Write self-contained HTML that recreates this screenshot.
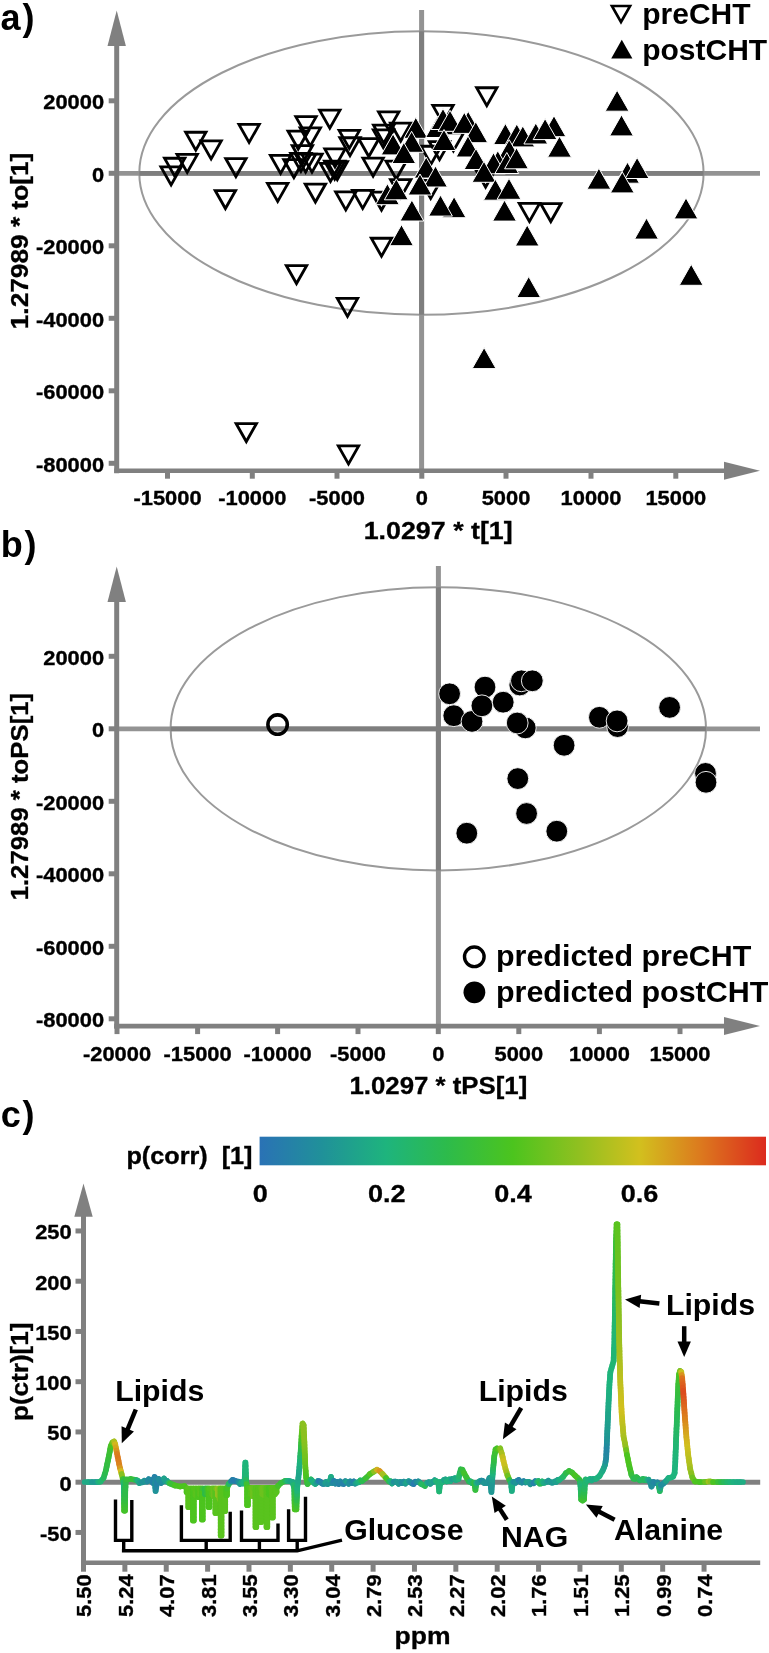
<!DOCTYPE html>
<html><head><meta charset="utf-8"><title>figure</title>
<style>
html,body{margin:0;padding:0;background:#fff;}
body{width:769px;height:1653px;overflow:hidden;}
svg{display:block;font-family:"Liberation Sans",sans-serif;font-weight:bold;}
text{filter:grayscale(1);}
</style></head><body>
<svg width="769" height="1653" viewBox="0 0 769 1653">
<rect width="769" height="1653" fill="#fff"/>
<ellipse cx="421.45" cy="173.0" rx="282.15" ry="141.8" fill="none" stroke="#9a9a9a" stroke-width="2"/>
<line x1="421.60" y1="10.00" x2="421.60" y2="470.70" stroke="#939393" stroke-width="5.0" stroke-linecap="butt"/>
<line x1="116.70" y1="173.30" x2="760.00" y2="173.30" stroke="#939393" stroke-width="4.7" stroke-linecap="butt"/>
<clipPath id="clip173"><ellipse cx="421.45" cy="173.0" rx="282.15" ry="141.8"/></clipPath>
<g clip-path="url(#clip173)">
<line x1="421.60" y1="10.00" x2="421.60" y2="470.70" stroke="#7e7e7e" stroke-width="5.0" stroke-linecap="butt"/>
<line x1="116.70" y1="173.30" x2="760.00" y2="173.30" stroke="#7e7e7e" stroke-width="4.7" stroke-linecap="butt"/>
</g>
<line x1="116.70" y1="40.00" x2="116.70" y2="473.20" stroke="#808080" stroke-width="5" stroke-linecap="butt"/>
<polygon points="116.70,10.50 107.50,45.90 125.90,45.90" fill="#808080" stroke="none" stroke-width="0" />
<line x1="114.20" y1="470.70" x2="730.00" y2="470.70" stroke="#808080" stroke-width="4.6" stroke-linecap="butt"/>
<polygon points="760.00,470.70 724.00,461.70 724.00,479.70" fill="#808080" stroke="none" stroke-width="0" />
<line x1="108.70" y1="100.80" x2="116.70" y2="100.80" stroke="#808080" stroke-width="5" stroke-linecap="butt"/>
<text transform="translate(104.10,109.30) scale(1.078,1)" font-size="20.3" text-anchor="end" fill="#000"  stroke="#000" stroke-width="0.35">20000</text>
<line x1="108.70" y1="173.30" x2="116.70" y2="173.30" stroke="#808080" stroke-width="5" stroke-linecap="butt"/>
<text transform="translate(104.10,181.80) scale(1.078,1)" font-size="20.3" text-anchor="end" fill="#000"  stroke="#000" stroke-width="0.35">0</text>
<line x1="108.70" y1="245.80" x2="116.70" y2="245.80" stroke="#808080" stroke-width="5" stroke-linecap="butt"/>
<text transform="translate(104.10,254.30) scale(1.078,1)" font-size="20.3" text-anchor="end" fill="#000"  stroke="#000" stroke-width="0.35">-20000</text>
<line x1="108.70" y1="318.30" x2="116.70" y2="318.30" stroke="#808080" stroke-width="5" stroke-linecap="butt"/>
<text transform="translate(104.10,326.80) scale(1.078,1)" font-size="20.3" text-anchor="end" fill="#000"  stroke="#000" stroke-width="0.35">-40000</text>
<line x1="108.70" y1="390.80" x2="116.70" y2="390.80" stroke="#808080" stroke-width="5" stroke-linecap="butt"/>
<text transform="translate(104.10,399.30) scale(1.078,1)" font-size="20.3" text-anchor="end" fill="#000"  stroke="#000" stroke-width="0.35">-60000</text>
<line x1="108.70" y1="463.30" x2="116.70" y2="463.30" stroke="#808080" stroke-width="5" stroke-linecap="butt"/>
<text transform="translate(104.10,471.80) scale(1.078,1)" font-size="20.3" text-anchor="end" fill="#000"  stroke="#000" stroke-width="0.35">-80000</text>
<line x1="167.50" y1="470.70" x2="167.50" y2="478.70" stroke="#808080" stroke-width="5" stroke-linecap="butt"/>
<text transform="translate(167.50,504.80) scale(1.078,1)" font-size="20.3" text-anchor="middle" fill="#000"  stroke="#000" stroke-width="0.35">-15000</text>
<line x1="252.30" y1="470.70" x2="252.30" y2="478.70" stroke="#808080" stroke-width="5" stroke-linecap="butt"/>
<text transform="translate(252.30,504.80) scale(1.078,1)" font-size="20.3" text-anchor="middle" fill="#000"  stroke="#000" stroke-width="0.35">-10000</text>
<line x1="337.00" y1="470.70" x2="337.00" y2="478.70" stroke="#808080" stroke-width="5" stroke-linecap="butt"/>
<text transform="translate(337.00,504.80) scale(1.078,1)" font-size="20.3" text-anchor="middle" fill="#000"  stroke="#000" stroke-width="0.35">-5000</text>
<line x1="421.80" y1="470.70" x2="421.80" y2="478.70" stroke="#808080" stroke-width="5" stroke-linecap="butt"/>
<text transform="translate(421.80,504.80) scale(1.078,1)" font-size="20.3" text-anchor="middle" fill="#000"  stroke="#000" stroke-width="0.35">0</text>
<line x1="506.00" y1="470.70" x2="506.00" y2="478.70" stroke="#808080" stroke-width="5" stroke-linecap="butt"/>
<text transform="translate(506.00,504.80) scale(1.078,1)" font-size="20.3" text-anchor="middle" fill="#000"  stroke="#000" stroke-width="0.35">5000</text>
<line x1="591.00" y1="470.70" x2="591.00" y2="478.70" stroke="#808080" stroke-width="5" stroke-linecap="butt"/>
<text transform="translate(591.00,504.80) scale(1.078,1)" font-size="20.3" text-anchor="middle" fill="#000"  stroke="#000" stroke-width="0.35">10000</text>
<line x1="675.80" y1="470.70" x2="675.80" y2="478.70" stroke="#808080" stroke-width="5" stroke-linecap="butt"/>
<text transform="translate(675.80,504.80) scale(1.078,1)" font-size="20.3" text-anchor="middle" fill="#000"  stroke="#000" stroke-width="0.35">15000</text>
<text transform="translate(28.40,241.00) rotate(-90)" font-size="23.6" text-anchor="middle" fill="#000"  textLength="176.5" lengthAdjust="spacingAndGlyphs" stroke="#000" stroke-width="0.3">1.27989 * to[1]</text>
<text transform="translate(438.20,539.00)" font-size="23.6" text-anchor="middle" fill="#000"  textLength="149" lengthAdjust="spacingAndGlyphs" stroke="#000" stroke-width="0.3">1.0297 * t[1]</text>
<text transform="translate(0.60,30.30)" font-size="36" text-anchor="start" fill="#000" >a<tspan dx="1.8">)</tspan></text>
<polygon points="160.90,166.85 181.30,166.85 171.10,184.85" fill="none" stroke="#000" stroke-width="2.8" stroke-linejoin="miter"/>
<polygon points="164.50,158.25 184.90,158.25 174.70,176.25" fill="none" stroke="#000" stroke-width="2.8" stroke-linejoin="miter"/>
<polygon points="177.00,154.35 197.40,154.35 187.20,172.35" fill="none" stroke="#000" stroke-width="2.8" stroke-linejoin="miter"/>
<polygon points="185.60,132.25 206.00,132.25 195.80,150.25" fill="none" stroke="#000" stroke-width="2.8" stroke-linejoin="miter"/>
<polygon points="200.90,140.85 221.30,140.85 211.10,158.85" fill="none" stroke="#000" stroke-width="2.8" stroke-linejoin="miter"/>
<polygon points="238.90,124.45 259.30,124.45 249.10,142.45" fill="none" stroke="#000" stroke-width="2.8" stroke-linejoin="miter"/>
<polygon points="225.70,158.55 246.10,158.55 235.90,176.55" fill="none" stroke="#000" stroke-width="2.8" stroke-linejoin="miter"/>
<polygon points="215.20,190.55 235.60,190.55 225.40,208.55" fill="none" stroke="#000" stroke-width="2.8" stroke-linejoin="miter"/>
<polygon points="267.50,183.45 287.90,183.45 277.70,201.45" fill="none" stroke="#000" stroke-width="2.8" stroke-linejoin="miter"/>
<polygon points="305.20,184.05 325.60,184.05 315.40,202.05" fill="none" stroke="#000" stroke-width="2.8" stroke-linejoin="miter"/>
<polygon points="286.30,265.55 306.70,265.55 296.50,283.55" fill="none" stroke="#000" stroke-width="2.8" stroke-linejoin="miter"/>
<polygon points="337.30,298.45 357.70,298.45 347.50,316.45" fill="none" stroke="#000" stroke-width="2.8" stroke-linejoin="miter"/>
<polygon points="236.10,423.55 256.50,423.55 246.30,441.55" fill="none" stroke="#000" stroke-width="2.8" stroke-linejoin="miter"/>
<polygon points="338.30,445.95 358.70,445.95 348.50,463.95" fill="none" stroke="#000" stroke-width="2.8" stroke-linejoin="miter"/>
<polygon points="319.60,110.15 340.00,110.15 329.80,128.15" fill="none" stroke="#000" stroke-width="2.8" stroke-linejoin="miter"/>
<polygon points="295.80,116.65 316.20,116.65 306.00,134.65" fill="none" stroke="#000" stroke-width="2.8" stroke-linejoin="miter"/>
<polygon points="300.10,127.85 320.50,127.85 310.30,145.85" fill="none" stroke="#000" stroke-width="2.8" stroke-linejoin="miter"/>
<polygon points="288.00,131.05 308.40,131.05 298.20,149.05" fill="none" stroke="#000" stroke-width="2.8" stroke-linejoin="miter"/>
<polygon points="292.20,145.55 312.60,145.55 302.40,163.55" fill="none" stroke="#000" stroke-width="2.8" stroke-linejoin="miter"/>
<polygon points="270.40,155.35 290.80,155.35 280.60,173.35" fill="none" stroke="#000" stroke-width="2.8" stroke-linejoin="miter"/>
<polygon points="283.70,159.55 304.10,159.55 293.90,177.55" fill="none" stroke="#000" stroke-width="2.8" stroke-linejoin="miter"/>
<polygon points="290.70,153.35 311.10,153.35 300.90,171.35" fill="none" stroke="#000" stroke-width="2.8" stroke-linejoin="miter"/>
<polygon points="295.40,154.15 315.80,154.15 305.60,172.15" fill="none" stroke="#000" stroke-width="2.8" stroke-linejoin="miter"/>
<polygon points="301.80,154.15 322.20,154.15 312.00,172.15" fill="none" stroke="#000" stroke-width="2.8" stroke-linejoin="miter"/>
<polygon points="339.10,130.35 359.50,130.35 349.30,148.35" fill="none" stroke="#000" stroke-width="2.8" stroke-linejoin="miter"/>
<polygon points="339.80,137.75 360.20,137.75 350.00,155.75" fill="none" stroke="#000" stroke-width="2.8" stroke-linejoin="miter"/>
<polygon points="324.80,148.85 345.20,148.85 335.00,166.85" fill="none" stroke="#000" stroke-width="2.8" stroke-linejoin="miter"/>
<polygon points="320.30,163.45 340.70,163.45 330.50,181.45" fill="none" stroke="#000" stroke-width="2.8" stroke-linejoin="miter"/>
<polygon points="324.50,161.25 344.90,161.25 334.70,179.25" fill="none" stroke="#000" stroke-width="2.8" stroke-linejoin="miter"/>
<polygon points="327.10,161.55 347.50,161.55 337.30,179.55" fill="none" stroke="#000" stroke-width="2.8" stroke-linejoin="miter"/>
<polygon points="358.60,138.55 379.00,138.55 368.80,156.55" fill="none" stroke="#000" stroke-width="2.8" stroke-linejoin="miter"/>
<polygon points="362.90,158.15 383.30,158.15 373.10,176.15" fill="none" stroke="#000" stroke-width="2.8" stroke-linejoin="miter"/>
<polygon points="335.60,191.85 356.00,191.85 345.80,209.85" fill="none" stroke="#000" stroke-width="2.8" stroke-linejoin="miter"/>
<polygon points="352.50,190.35 372.90,190.35 362.70,208.35" fill="none" stroke="#000" stroke-width="2.8" stroke-linejoin="miter"/>
<polygon points="371.30,192.05 391.70,192.05 381.50,210.05" fill="none" stroke="#000" stroke-width="2.8" stroke-linejoin="miter"/>
<polygon points="378.50,111.95 398.90,111.95 388.70,129.95" fill="none" stroke="#000" stroke-width="2.8" stroke-linejoin="miter"/>
<polygon points="390.50,123.05 410.90,123.05 400.70,141.05" fill="none" stroke="#000" stroke-width="2.8" stroke-linejoin="miter"/>
<polygon points="373.50,125.15 393.90,125.15 383.70,143.15" fill="none" stroke="#000" stroke-width="2.8" stroke-linejoin="miter"/>
<polygon points="373.30,129.85 393.70,129.85 383.50,147.85" fill="none" stroke="#000" stroke-width="2.8" stroke-linejoin="miter"/>
<polygon points="386.00,161.05 406.40,161.05 396.20,179.05" fill="none" stroke="#000" stroke-width="2.8" stroke-linejoin="miter"/>
<polygon points="432.80,105.45 453.20,105.45 443.00,123.45" fill="none" stroke="#000" stroke-width="2.8" stroke-linejoin="miter"/>
<polygon points="420.80,146.25 441.20,146.25 431.00,164.25" fill="none" stroke="#000" stroke-width="2.8" stroke-linejoin="miter"/>
<polygon points="429.30,141.65 449.70,141.65 439.50,159.65" fill="none" stroke="#000" stroke-width="2.8" stroke-linejoin="miter"/>
<polygon points="443.20,132.95 463.60,132.95 453.40,150.95" fill="none" stroke="#000" stroke-width="2.8" stroke-linejoin="miter"/>
<polygon points="476.60,87.75 497.00,87.75 486.80,105.75" fill="none" stroke="#000" stroke-width="2.8" stroke-linejoin="miter"/>
<polygon points="390.50,179.55 410.90,179.55 400.70,197.55" fill="none" stroke="#000" stroke-width="2.8" stroke-linejoin="miter"/>
<polygon points="420.50,180.35 440.90,180.35 430.70,198.35" fill="none" stroke="#000" stroke-width="2.8" stroke-linejoin="miter"/>
<polygon points="371.30,238.25 391.70,238.25 381.50,256.25" fill="none" stroke="#000" stroke-width="2.8" stroke-linejoin="miter"/>
<polygon points="519.20,203.35 539.60,203.35 529.40,221.35" fill="none" stroke="#000" stroke-width="2.8" stroke-linejoin="miter"/>
<polygon points="540.60,203.55 561.00,203.55 550.80,221.55" fill="none" stroke="#000" stroke-width="2.8" stroke-linejoin="miter"/>
<polygon points="475.40,169.05 495.80,169.05 485.60,187.05" fill="none" stroke="#000" stroke-width="2.8" stroke-linejoin="miter"/>
<polygon points="415.80,117.30 427.70,138.30 403.90,138.30" fill="#000" stroke="#fff" stroke-width="1.0" />
<polygon points="411.60,131.30 423.50,152.30 399.70,152.30" fill="#000" stroke="#fff" stroke-width="1.0" />
<polygon points="393.10,133.90 405.00,154.90 381.20,154.90" fill="#000" stroke="#fff" stroke-width="1.0" />
<polygon points="403.80,142.50 415.70,163.50 391.90,163.50" fill="#000" stroke="#fff" stroke-width="1.0" />
<polygon points="437.50,116.50 449.40,137.50 425.60,137.50" fill="#000" stroke="#fff" stroke-width="1.0" />
<polygon points="443.00,108.50 454.90,129.50 431.10,129.50" fill="#000" stroke="#fff" stroke-width="1.0" />
<polygon points="450.00,110.30 461.90,131.30 438.10,131.30" fill="#000" stroke="#fff" stroke-width="1.0" />
<polygon points="444.00,129.50 455.90,150.50 432.10,150.50" fill="#000" stroke="#fff" stroke-width="1.0" />
<polygon points="426.20,157.10 438.10,178.10 414.30,178.10" fill="#000" stroke="#fff" stroke-width="1.0" />
<polygon points="435.50,166.00 447.40,187.00 423.60,187.00" fill="#000" stroke="#fff" stroke-width="1.0" />
<polygon points="468.20,111.30 480.10,132.30 456.30,132.30" fill="#000" stroke="#fff" stroke-width="1.0" />
<polygon points="464.30,112.40 476.20,133.40 452.40,133.40" fill="#000" stroke="#fff" stroke-width="1.0" />
<polygon points="475.80,121.70 487.70,142.70 463.90,142.70" fill="#000" stroke="#fff" stroke-width="1.0" />
<polygon points="468.00,136.00 479.90,157.00 456.10,157.00" fill="#000" stroke="#fff" stroke-width="1.0" />
<polygon points="476.00,148.50 487.90,169.50 464.10,169.50" fill="#000" stroke="#fff" stroke-width="1.0" />
<polygon points="505.40,123.60 517.30,144.60 493.50,144.60" fill="#000" stroke="#fff" stroke-width="1.0" />
<polygon points="516.80,124.00 528.70,145.00 504.90,145.00" fill="#000" stroke="#fff" stroke-width="1.0" />
<polygon points="522.80,125.90 534.70,146.90 510.90,146.90" fill="#000" stroke="#fff" stroke-width="1.0" />
<polygon points="535.80,123.00 547.70,144.00 523.90,144.00" fill="#000" stroke="#fff" stroke-width="1.0" />
<polygon points="554.00,115.70 565.90,136.70 542.10,136.70" fill="#000" stroke="#fff" stroke-width="1.0" />
<polygon points="545.10,118.60 557.00,139.60 533.20,139.60" fill="#000" stroke="#fff" stroke-width="1.0" />
<polygon points="559.50,136.20 571.40,157.20 547.60,157.20" fill="#000" stroke="#fff" stroke-width="1.0" />
<polygon points="509.20,139.70 521.10,160.70 497.30,160.70" fill="#000" stroke="#fff" stroke-width="1.0" />
<polygon points="497.80,150.70 509.70,171.70 485.90,171.70" fill="#000" stroke="#fff" stroke-width="1.0" />
<polygon points="493.50,152.80 505.40,173.80 481.60,173.80" fill="#000" stroke="#fff" stroke-width="1.0" />
<polygon points="506.80,152.50 518.70,173.50 494.90,173.50" fill="#000" stroke="#fff" stroke-width="1.0" />
<polygon points="516.50,147.80 528.40,168.80 504.60,168.80" fill="#000" stroke="#fff" stroke-width="1.0" />
<polygon points="484.00,161.30 495.90,182.30 472.10,182.30" fill="#000" stroke="#fff" stroke-width="1.0" />
<polygon points="495.40,179.20 507.30,200.20 483.50,200.20" fill="#000" stroke="#fff" stroke-width="1.0" />
<polygon points="509.00,178.30 520.90,199.30 497.10,199.30" fill="#000" stroke="#fff" stroke-width="1.0" />
<polygon points="504.50,200.10 516.40,221.10 492.60,221.10" fill="#000" stroke="#fff" stroke-width="1.0" />
<polygon points="527.20,225.00 539.10,246.00 515.30,246.00" fill="#000" stroke="#fff" stroke-width="1.0" />
<polygon points="411.90,200.00 423.80,221.00 400.00,221.00" fill="#000" stroke="#fff" stroke-width="1.0" />
<polygon points="401.50,224.70 413.40,245.70 389.60,245.70" fill="#000" stroke="#fff" stroke-width="1.0" />
<polygon points="454.10,196.70 466.00,217.70 442.20,217.70" fill="#000" stroke="#fff" stroke-width="1.0" />
<polygon points="440.50,195.10 452.40,216.10 428.60,216.10" fill="#000" stroke="#fff" stroke-width="1.0" />
<polygon points="420.00,174.00 431.90,195.00 408.10,195.00" fill="#000" stroke="#fff" stroke-width="1.0" />
<polygon points="387.40,183.70 399.30,204.70 375.50,204.70" fill="#000" stroke="#fff" stroke-width="1.0" />
<polygon points="396.30,178.80 408.20,199.80 384.40,199.80" fill="#000" stroke="#fff" stroke-width="1.0" />
<polygon points="617.10,90.20 629.00,111.20 605.20,111.20" fill="#000" stroke="#fff" stroke-width="1.0" />
<polygon points="621.50,114.90 633.40,135.90 609.60,135.90" fill="#000" stroke="#fff" stroke-width="1.0" />
<polygon points="627.50,162.20 639.40,183.20 615.60,183.20" fill="#000" stroke="#fff" stroke-width="1.0" />
<polygon points="637.10,157.50 649.00,178.50 625.20,178.50" fill="#000" stroke="#fff" stroke-width="1.0" />
<polygon points="598.90,168.20 610.80,189.20 587.00,189.20" fill="#000" stroke="#fff" stroke-width="1.0" />
<polygon points="622.30,171.90 634.20,192.90 610.40,192.90" fill="#000" stroke="#fff" stroke-width="1.0" />
<polygon points="686.00,197.90 697.90,218.90 674.10,218.90" fill="#000" stroke="#fff" stroke-width="1.0" />
<polygon points="646.50,218.10 658.40,239.10 634.60,239.10" fill="#000" stroke="#fff" stroke-width="1.0" />
<polygon points="691.20,264.30 703.10,285.30 679.30,285.30" fill="#000" stroke="#fff" stroke-width="1.0" />
<polygon points="528.70,276.60 540.60,297.60 516.80,297.60" fill="#000" stroke="#fff" stroke-width="1.0" />
<polygon points="484.10,347.60 496.00,368.60 472.20,368.60" fill="#000" stroke="#fff" stroke-width="1.0" />
<polygon points="611.90,6.00 630.10,6.00 621.00,22.00" fill="#fff" stroke="#000" stroke-width="2.6" stroke-linejoin="miter"/>
<polygon points="621.80,39.80 632.40,58.60 611.20,58.60" fill="#000" stroke="none" stroke-width="0" />
<text transform="translate(642.20,23.60)" font-size="30" text-anchor="start" fill="#000" >preCHT</text>
<text transform="translate(642.20,60.00)" font-size="30" text-anchor="start" fill="#000" >postCHT</text>
<ellipse cx="438.3" cy="728.85" rx="267.7" ry="141.65" fill="none" stroke="#9a9a9a" stroke-width="2"/>
<line x1="438.40" y1="566.00" x2="438.40" y2="1026.10" stroke="#939393" stroke-width="5.0" stroke-linecap="butt"/>
<line x1="116.70" y1="728.80" x2="760.00" y2="728.80" stroke="#939393" stroke-width="4.7" stroke-linecap="butt"/>
<clipPath id="clip728"><ellipse cx="438.3" cy="728.85" rx="267.7" ry="141.65"/></clipPath>
<g clip-path="url(#clip728)">
<line x1="438.40" y1="566.00" x2="438.40" y2="1026.10" stroke="#7e7e7e" stroke-width="5.0" stroke-linecap="butt"/>
<line x1="116.70" y1="728.80" x2="760.00" y2="728.80" stroke="#7e7e7e" stroke-width="4.7" stroke-linecap="butt"/>
</g>
<line x1="116.70" y1="596.00" x2="116.70" y2="1028.60" stroke="#808080" stroke-width="5" stroke-linecap="butt"/>
<polygon points="116.70,566.50 107.50,601.90 125.90,601.90" fill="#808080" stroke="none" stroke-width="0" />
<line x1="114.20" y1="1026.10" x2="730.00" y2="1026.10" stroke="#808080" stroke-width="4.6" stroke-linecap="butt"/>
<polygon points="760.00,1026.10 724.00,1017.10 724.00,1035.10" fill="#808080" stroke="none" stroke-width="0" />
<line x1="108.70" y1="656.30" x2="116.70" y2="656.30" stroke="#808080" stroke-width="5" stroke-linecap="butt"/>
<text transform="translate(104.10,664.80) scale(1.078,1)" font-size="20.3" text-anchor="end" fill="#000"  stroke="#000" stroke-width="0.35">20000</text>
<line x1="108.70" y1="728.80" x2="116.70" y2="728.80" stroke="#808080" stroke-width="5" stroke-linecap="butt"/>
<text transform="translate(104.10,737.30) scale(1.078,1)" font-size="20.3" text-anchor="end" fill="#000"  stroke="#000" stroke-width="0.35">0</text>
<line x1="108.70" y1="801.30" x2="116.70" y2="801.30" stroke="#808080" stroke-width="5" stroke-linecap="butt"/>
<text transform="translate(104.10,809.80) scale(1.078,1)" font-size="20.3" text-anchor="end" fill="#000"  stroke="#000" stroke-width="0.35">-20000</text>
<line x1="108.70" y1="873.80" x2="116.70" y2="873.80" stroke="#808080" stroke-width="5" stroke-linecap="butt"/>
<text transform="translate(104.10,882.30) scale(1.078,1)" font-size="20.3" text-anchor="end" fill="#000"  stroke="#000" stroke-width="0.35">-40000</text>
<line x1="108.70" y1="946.30" x2="116.70" y2="946.30" stroke="#808080" stroke-width="5" stroke-linecap="butt"/>
<text transform="translate(104.10,954.80) scale(1.078,1)" font-size="20.3" text-anchor="end" fill="#000"  stroke="#000" stroke-width="0.35">-60000</text>
<line x1="108.70" y1="1018.80" x2="116.70" y2="1018.80" stroke="#808080" stroke-width="5" stroke-linecap="butt"/>
<text transform="translate(104.10,1027.30) scale(1.078,1)" font-size="20.3" text-anchor="end" fill="#000"  stroke="#000" stroke-width="0.35">-80000</text>
<line x1="117.00" y1="1026.10" x2="117.00" y2="1034.10" stroke="#808080" stroke-width="5" stroke-linecap="butt"/>
<text transform="translate(117.00,1061.40) scale(1.078,1)" font-size="20.3" text-anchor="middle" fill="#000"  stroke="#000" stroke-width="0.35">-20000</text>
<line x1="197.60" y1="1026.10" x2="197.60" y2="1034.10" stroke="#808080" stroke-width="5" stroke-linecap="butt"/>
<text transform="translate(197.60,1061.40) scale(1.078,1)" font-size="20.3" text-anchor="middle" fill="#000"  stroke="#000" stroke-width="0.35">-15000</text>
<line x1="277.60" y1="1026.10" x2="277.60" y2="1034.10" stroke="#808080" stroke-width="5" stroke-linecap="butt"/>
<text transform="translate(277.60,1061.40) scale(1.078,1)" font-size="20.3" text-anchor="middle" fill="#000"  stroke="#000" stroke-width="0.35">-10000</text>
<line x1="358.00" y1="1026.10" x2="358.00" y2="1034.10" stroke="#808080" stroke-width="5" stroke-linecap="butt"/>
<text transform="translate(358.00,1061.40) scale(1.078,1)" font-size="20.3" text-anchor="middle" fill="#000"  stroke="#000" stroke-width="0.35">-5000</text>
<line x1="438.30" y1="1026.10" x2="438.30" y2="1034.10" stroke="#808080" stroke-width="5" stroke-linecap="butt"/>
<text transform="translate(438.30,1061.40) scale(1.078,1)" font-size="20.3" text-anchor="middle" fill="#000"  stroke="#000" stroke-width="0.35">0</text>
<line x1="518.80" y1="1026.10" x2="518.80" y2="1034.10" stroke="#808080" stroke-width="5" stroke-linecap="butt"/>
<text transform="translate(518.80,1061.40) scale(1.078,1)" font-size="20.3" text-anchor="middle" fill="#000"  stroke="#000" stroke-width="0.35">5000</text>
<line x1="599.40" y1="1026.10" x2="599.40" y2="1034.10" stroke="#808080" stroke-width="5" stroke-linecap="butt"/>
<text transform="translate(599.40,1061.40) scale(1.078,1)" font-size="20.3" text-anchor="middle" fill="#000"  stroke="#000" stroke-width="0.35">10000</text>
<line x1="680.00" y1="1026.10" x2="680.00" y2="1034.10" stroke="#808080" stroke-width="5" stroke-linecap="butt"/>
<text transform="translate(680.00,1061.40) scale(1.078,1)" font-size="20.3" text-anchor="middle" fill="#000"  stroke="#000" stroke-width="0.35">15000</text>
<text transform="translate(27.90,796.60) rotate(-90)" font-size="23.6" text-anchor="middle" fill="#000"  textLength="207.5" lengthAdjust="spacingAndGlyphs" stroke="#000" stroke-width="0.3">1.27989 * toPS[1]</text>
<text transform="translate(438.40,1094.40)" font-size="23.6" text-anchor="middle" fill="#000"  textLength="177.8" lengthAdjust="spacingAndGlyphs" stroke="#000" stroke-width="0.3">1.0297 * tPS[1]</text>
<text transform="translate(0.80,556.50)" font-size="36" text-anchor="start" fill="#000" >b<tspan dx="1.6">)</tspan></text>
<circle cx="277.6" cy="724.6" r="9.7" fill="none" stroke="#000" stroke-width="3.6"/>
<circle cx="705.5" cy="773.4" r="10.9" fill="#000" stroke="#fff" stroke-width="0.9"/>
<circle cx="706.0" cy="782.3" r="10.9" fill="#000" stroke="#fff" stroke-width="0.9"/>
<circle cx="449.6" cy="693.8" r="10.9" fill="#000" stroke="#fff" stroke-width="0.9"/>
<circle cx="485.0" cy="687.1" r="10.9" fill="#000" stroke="#fff" stroke-width="0.9"/>
<circle cx="519.8" cy="685.0" r="10.9" fill="#000" stroke="#fff" stroke-width="0.9"/>
<circle cx="521.4" cy="680.8" r="10.9" fill="#000" stroke="#fff" stroke-width="0.9"/>
<circle cx="532.3" cy="680.8" r="10.9" fill="#000" stroke="#fff" stroke-width="0.9"/>
<circle cx="453.8" cy="715.7" r="10.9" fill="#000" stroke="#fff" stroke-width="0.9"/>
<circle cx="472.0" cy="721.4" r="10.9" fill="#000" stroke="#fff" stroke-width="0.9"/>
<circle cx="481.9" cy="705.8" r="10.9" fill="#000" stroke="#fff" stroke-width="0.9"/>
<circle cx="503.2" cy="702.2" r="10.9" fill="#000" stroke="#fff" stroke-width="0.9"/>
<circle cx="525.3" cy="727.9" r="10.9" fill="#000" stroke="#fff" stroke-width="0.9"/>
<circle cx="517.2" cy="723.0" r="10.9" fill="#000" stroke="#fff" stroke-width="0.9"/>
<circle cx="599.4" cy="717.3" r="10.9" fill="#000" stroke="#fff" stroke-width="0.9"/>
<circle cx="617.6" cy="726.6" r="10.9" fill="#000" stroke="#fff" stroke-width="0.9"/>
<circle cx="617.1" cy="720.9" r="10.9" fill="#000" stroke="#fff" stroke-width="0.9"/>
<circle cx="669.6" cy="707.4" r="10.9" fill="#000" stroke="#fff" stroke-width="0.9"/>
<circle cx="564.1" cy="745.3" r="10.9" fill="#000" stroke="#fff" stroke-width="0.9"/>
<circle cx="517.8" cy="778.6" r="10.9" fill="#000" stroke="#fff" stroke-width="0.9"/>
<circle cx="526.6" cy="813.5" r="10.9" fill="#000" stroke="#fff" stroke-width="0.9"/>
<circle cx="466.8" cy="833.2" r="10.9" fill="#000" stroke="#fff" stroke-width="0.9"/>
<circle cx="556.8" cy="831.2" r="10.9" fill="#000" stroke="#fff" stroke-width="0.9"/>
<circle cx="474.3" cy="956.8" r="9.8" fill="#fff" stroke="#000" stroke-width="3.4"/>
<circle cx="474.4" cy="992.3" r="10.9" fill="#000"/>
<text transform="translate(496.00,966.00) scale(1.015,1)" font-size="30" text-anchor="start" fill="#000" >predicted preCHT</text>
<text transform="translate(496.00,1001.90) scale(1.015,1)" font-size="30" text-anchor="start" fill="#000" >predicted postCHT</text>
<text transform="translate(0.70,1127.30)" font-size="36" text-anchor="start" fill="#000" >c<tspan dx="1.8">)</tspan></text>
<text transform="translate(126.40,1164.20) scale(1.06,1)" font-size="23.8" text-anchor="start" fill="#000"  stroke="#000" stroke-width="0.35">p(corr)&#160;&#160;[1]</text>
<defs><linearGradient id="cb" x1="0" x2="1" y1="0" y2="0"><stop offset="0" stop-color="#2a72b5"/><stop offset="0.12" stop-color="#20909a"/><stop offset="0.25" stop-color="#1eb47d"/><stop offset="0.37" stop-color="#2dbb4b"/><stop offset="0.5" stop-color="#4cc41e"/><stop offset="0.63" stop-color="#90c020"/><stop offset="0.75" stop-color="#d2c01e"/><stop offset="0.87" stop-color="#dc7a1e"/><stop offset="1" stop-color="#dc2a1e"/></linearGradient></defs>
<rect x="259.6" y="1136.7" width="506.4" height="28.6" fill="url(#cb)"/>
<text transform="translate(260.20,1201.60) scale(1.1,1)" font-size="24.6" text-anchor="middle" fill="#000"  stroke="#000" stroke-width="0.3">0</text>
<text transform="translate(386.80,1201.60) scale(1.1,1)" font-size="24.6" text-anchor="middle" fill="#000"  stroke="#000" stroke-width="0.3">0.2</text>
<text transform="translate(513.10,1201.60) scale(1.1,1)" font-size="24.6" text-anchor="middle" fill="#000"  stroke="#000" stroke-width="0.3">0.4</text>
<text transform="translate(639.50,1201.60) scale(1.1,1)" font-size="24.6" text-anchor="middle" fill="#000"  stroke="#000" stroke-width="0.3">0.6</text>
<line x1="83.50" y1="1482.20" x2="760.20" y2="1482.20" stroke="#808080" stroke-width="5" stroke-linecap="butt"/>
<line x1="83.50" y1="1213.50" x2="83.50" y2="1565.20" stroke="#808080" stroke-width="5" stroke-linecap="butt"/>
<polygon points="83.50,1183.50 74.30,1216.80 92.70,1216.80" fill="#808080" stroke="none" stroke-width="0" />
<line x1="81.00" y1="1562.70" x2="760.20" y2="1562.70" stroke="#808080" stroke-width="4.4" stroke-linecap="butt"/>
<line x1="75.50" y1="1230.95" x2="83.50" y2="1230.95" stroke="#808080" stroke-width="5" stroke-linecap="butt"/>
<text transform="translate(71.70,1239.45) scale(1.078,1)" font-size="20.3" text-anchor="end" fill="#000"  stroke="#000" stroke-width="0.35">250</text>
<line x1="75.50" y1="1281.20" x2="83.50" y2="1281.20" stroke="#808080" stroke-width="5" stroke-linecap="butt"/>
<text transform="translate(71.70,1289.70) scale(1.078,1)" font-size="20.3" text-anchor="end" fill="#000"  stroke="#000" stroke-width="0.35">200</text>
<line x1="75.50" y1="1331.45" x2="83.50" y2="1331.45" stroke="#808080" stroke-width="5" stroke-linecap="butt"/>
<text transform="translate(71.70,1339.95) scale(1.078,1)" font-size="20.3" text-anchor="end" fill="#000"  stroke="#000" stroke-width="0.35">150</text>
<line x1="75.50" y1="1381.70" x2="83.50" y2="1381.70" stroke="#808080" stroke-width="5" stroke-linecap="butt"/>
<text transform="translate(71.70,1390.20) scale(1.078,1)" font-size="20.3" text-anchor="end" fill="#000"  stroke="#000" stroke-width="0.35">100</text>
<line x1="75.50" y1="1431.95" x2="83.50" y2="1431.95" stroke="#808080" stroke-width="5" stroke-linecap="butt"/>
<text transform="translate(71.70,1440.45) scale(1.078,1)" font-size="20.3" text-anchor="end" fill="#000"  stroke="#000" stroke-width="0.35">50</text>
<line x1="75.50" y1="1482.20" x2="83.50" y2="1482.20" stroke="#808080" stroke-width="5" stroke-linecap="butt"/>
<text transform="translate(71.70,1490.70) scale(1.078,1)" font-size="20.3" text-anchor="end" fill="#000"  stroke="#000" stroke-width="0.35">0</text>
<line x1="75.50" y1="1532.45" x2="83.50" y2="1532.45" stroke="#808080" stroke-width="5" stroke-linecap="butt"/>
<text transform="translate(71.70,1540.95) scale(1.078,1)" font-size="20.3" text-anchor="end" fill="#000"  stroke="#000" stroke-width="0.35">-50</text>
<line x1="83.50" y1="1562.70" x2="83.50" y2="1571.70" stroke="#808080" stroke-width="5" stroke-linecap="butt"/>
<text transform="translate(91.40,1616.90) rotate(-90) scale(1.078,1)" font-size="20.3" text-anchor="start" fill="#000"  stroke="#000" stroke-width="0.35">5.50</text>
<line x1="124.87" y1="1562.70" x2="124.87" y2="1571.70" stroke="#808080" stroke-width="5" stroke-linecap="butt"/>
<text transform="translate(132.77,1616.90) rotate(-90) scale(1.078,1)" font-size="20.3" text-anchor="start" fill="#000"  stroke="#000" stroke-width="0.35">5.24</text>
<line x1="166.24" y1="1562.70" x2="166.24" y2="1571.70" stroke="#808080" stroke-width="5" stroke-linecap="butt"/>
<text transform="translate(174.14,1616.90) rotate(-90) scale(1.078,1)" font-size="20.3" text-anchor="start" fill="#000"  stroke="#000" stroke-width="0.35">4.07</text>
<line x1="207.61" y1="1562.70" x2="207.61" y2="1571.70" stroke="#808080" stroke-width="5" stroke-linecap="butt"/>
<text transform="translate(215.51,1616.90) rotate(-90) scale(1.078,1)" font-size="20.3" text-anchor="start" fill="#000"  stroke="#000" stroke-width="0.35">3.81</text>
<line x1="248.98" y1="1562.70" x2="248.98" y2="1571.70" stroke="#808080" stroke-width="5" stroke-linecap="butt"/>
<text transform="translate(256.88,1616.90) rotate(-90) scale(1.078,1)" font-size="20.3" text-anchor="start" fill="#000"  stroke="#000" stroke-width="0.35">3.55</text>
<line x1="290.35" y1="1562.70" x2="290.35" y2="1571.70" stroke="#808080" stroke-width="5" stroke-linecap="butt"/>
<text transform="translate(298.25,1616.90) rotate(-90) scale(1.078,1)" font-size="20.3" text-anchor="start" fill="#000"  stroke="#000" stroke-width="0.35">3.30</text>
<line x1="331.72" y1="1562.70" x2="331.72" y2="1571.70" stroke="#808080" stroke-width="5" stroke-linecap="butt"/>
<text transform="translate(339.62,1616.90) rotate(-90) scale(1.078,1)" font-size="20.3" text-anchor="start" fill="#000"  stroke="#000" stroke-width="0.35">3.04</text>
<line x1="373.09" y1="1562.70" x2="373.09" y2="1571.70" stroke="#808080" stroke-width="5" stroke-linecap="butt"/>
<text transform="translate(380.99,1616.90) rotate(-90) scale(1.078,1)" font-size="20.3" text-anchor="start" fill="#000"  stroke="#000" stroke-width="0.35">2.79</text>
<line x1="414.46" y1="1562.70" x2="414.46" y2="1571.70" stroke="#808080" stroke-width="5" stroke-linecap="butt"/>
<text transform="translate(422.36,1616.90) rotate(-90) scale(1.078,1)" font-size="20.3" text-anchor="start" fill="#000"  stroke="#000" stroke-width="0.35">2.53</text>
<line x1="455.83" y1="1562.70" x2="455.83" y2="1571.70" stroke="#808080" stroke-width="5" stroke-linecap="butt"/>
<text transform="translate(463.73,1616.90) rotate(-90) scale(1.078,1)" font-size="20.3" text-anchor="start" fill="#000"  stroke="#000" stroke-width="0.35">2.27</text>
<line x1="497.20" y1="1562.70" x2="497.20" y2="1571.70" stroke="#808080" stroke-width="5" stroke-linecap="butt"/>
<text transform="translate(505.10,1616.90) rotate(-90) scale(1.078,1)" font-size="20.3" text-anchor="start" fill="#000"  stroke="#000" stroke-width="0.35">2.02</text>
<line x1="538.57" y1="1562.70" x2="538.57" y2="1571.70" stroke="#808080" stroke-width="5" stroke-linecap="butt"/>
<text transform="translate(546.47,1616.90) rotate(-90) scale(1.078,1)" font-size="20.3" text-anchor="start" fill="#000"  stroke="#000" stroke-width="0.35">1.76</text>
<line x1="579.94" y1="1562.70" x2="579.94" y2="1571.70" stroke="#808080" stroke-width="5" stroke-linecap="butt"/>
<text transform="translate(587.84,1616.90) rotate(-90) scale(1.078,1)" font-size="20.3" text-anchor="start" fill="#000"  stroke="#000" stroke-width="0.35">1.51</text>
<line x1="621.31" y1="1562.70" x2="621.31" y2="1571.70" stroke="#808080" stroke-width="5" stroke-linecap="butt"/>
<text transform="translate(629.21,1616.90) rotate(-90) scale(1.078,1)" font-size="20.3" text-anchor="start" fill="#000"  stroke="#000" stroke-width="0.35">1.25</text>
<line x1="662.68" y1="1562.70" x2="662.68" y2="1571.70" stroke="#808080" stroke-width="5" stroke-linecap="butt"/>
<text transform="translate(670.58,1616.90) rotate(-90) scale(1.078,1)" font-size="20.3" text-anchor="start" fill="#000"  stroke="#000" stroke-width="0.35">0.99</text>
<line x1="704.05" y1="1562.70" x2="704.05" y2="1571.70" stroke="#808080" stroke-width="5" stroke-linecap="butt"/>
<text transform="translate(711.95,1616.90) rotate(-90) scale(1.078,1)" font-size="20.3" text-anchor="start" fill="#000"  stroke="#000" stroke-width="0.35">0.74</text>
<text transform="translate(28.00,1371.80) rotate(-90)" font-size="23.6" text-anchor="middle" fill="#000"  textLength="98.5" lengthAdjust="spacingAndGlyphs" stroke="#000" stroke-width="0.3">p(ctr)[1]</text>
<text transform="translate(422.60,1644.00)" font-size="23.6" text-anchor="middle" fill="#000"  textLength="56" lengthAdjust="spacingAndGlyphs" stroke="#000" stroke-width="0.3">ppm</text>
<g stroke-width="5.7" stroke-linecap="round" fill="none">
<line x1="84.6" y1="1482.0" x2="88.3" y2="1482.0" stroke="#1faa85"/>
<line x1="88.3" y1="1482.0" x2="92.0" y2="1482.0" stroke="#1faa85"/>
<line x1="92.0" y1="1482.0" x2="95.5" y2="1482.0" stroke="#1f9a92"/>
<line x1="95.5" y1="1482.0" x2="98.0" y2="1482.0" stroke="#1f9a92"/>
<line x1="98.0" y1="1482.0" x2="100.5" y2="1481.5" stroke="#1eaf81"/>
<line x1="100.5" y1="1481.5" x2="103.5" y2="1478.0" stroke="#22b670"/>
<line x1="103.5" y1="1478.0" x2="104.8" y2="1474.0" stroke="#28b95c"/>
<line x1="104.8" y1="1474.0" x2="106.0" y2="1470.0" stroke="#2cba4f"/>
<line x1="106.0" y1="1470.0" x2="106.6" y2="1467.0" stroke="#2fbc48"/>
<line x1="106.6" y1="1467.0" x2="107.2" y2="1464.0" stroke="#32bc44"/>
<line x1="107.2" y1="1464.0" x2="107.9" y2="1461.0" stroke="#34bd41"/>
<line x1="107.9" y1="1461.0" x2="108.5" y2="1458.0" stroke="#36be3e"/>
<line x1="108.5" y1="1458.0" x2="109.1" y2="1455.0" stroke="#38be3b"/>
<line x1="109.1" y1="1455.0" x2="109.7" y2="1452.0" stroke="#3abf37"/>
<line x1="109.7" y1="1452.0" x2="110.2" y2="1449.0" stroke="#3dc034"/>
<line x1="110.2" y1="1449.0" x2="110.8" y2="1446.0" stroke="#3fc031"/>
<line x1="110.8" y1="1446.0" x2="112.5" y2="1442.4" stroke="#49c322"/>
<line x1="112.5" y1="1442.4" x2="114.1" y2="1441.5" stroke="#73c21f"/>
<line x1="114.1" y1="1441.5" x2="115.2" y2="1444.2" stroke="#b0c01f"/>
<line x1="115.2" y1="1444.2" x2="115.8" y2="1447.4" stroke="#d3b71e"/>
<line x1="115.8" y1="1447.4" x2="116.5" y2="1450.6" stroke="#d6a51e"/>
<line x1="116.5" y1="1450.6" x2="117.1" y2="1453.8" stroke="#d9921e"/>
<line x1="117.1" y1="1453.8" x2="117.7" y2="1457.0" stroke="#db801e"/>
<line x1="117.7" y1="1457.0" x2="118.5" y2="1460.7" stroke="#dc791e"/>
<line x1="118.5" y1="1460.7" x2="119.2" y2="1464.3" stroke="#db7e1e"/>
<line x1="119.2" y1="1464.3" x2="120.0" y2="1468.0" stroke="#db831e"/>
<line x1="120.0" y1="1468.0" x2="120.8" y2="1471.0" stroke="#d8981e"/>
<line x1="120.8" y1="1471.0" x2="121.6" y2="1474.0" stroke="#d3bc1e"/>
<line x1="121.6" y1="1474.0" x2="122.8" y2="1479.0" stroke="#87c120"/>
<line x1="122.8" y1="1479.0" x2="123.3" y2="1482.0" stroke="#3dc034"/>
<line x1="123.3" y1="1482.0" x2="123.8" y2="1485.0" stroke="#26b863"/>
<line x1="123.8" y1="1485.0" x2="123.9" y2="1488.7" stroke="#1fb579"/>
<line x1="123.9" y1="1488.7" x2="123.9" y2="1492.3" stroke="#22b670"/>
<line x1="123.9" y1="1492.3" x2="124.0" y2="1496.0" stroke="#25b767"/>
<line x1="124.0" y1="1496.0" x2="124.0" y2="1499.7" stroke="#28b95a"/>
<line x1="124.0" y1="1499.7" x2="124.0" y2="1503.3" stroke="#2ebb4a"/>
<line x1="124.0" y1="1503.3" x2="124.1" y2="1506.9" stroke="#38be3c"/>
<line x1="124.1" y1="1506.9" x2="124.1" y2="1510.6" stroke="#41c12e"/>
<line x1="124.1" y1="1510.6" x2="125.0" y2="1510.6" stroke="#46c227"/>
<line x1="125.0" y1="1510.6" x2="125.0" y2="1507.3" stroke="#44c22a"/>
<line x1="125.0" y1="1507.3" x2="125.1" y2="1504.0" stroke="#3fc031"/>
<line x1="125.1" y1="1504.0" x2="125.1" y2="1500.6" stroke="#3abf38"/>
<line x1="125.1" y1="1500.6" x2="125.2" y2="1497.3" stroke="#35bd3f"/>
<line x1="125.2" y1="1497.3" x2="125.2" y2="1494.0" stroke="#31bc46"/>
<line x1="125.2" y1="1494.0" x2="125.3" y2="1490.4" stroke="#2ebb49"/>
<line x1="125.3" y1="1490.4" x2="125.5" y2="1486.8" stroke="#2ebb49"/>
<line x1="125.5" y1="1486.8" x2="125.6" y2="1483.1" stroke="#2ebb49"/>
<line x1="125.6" y1="1483.1" x2="125.7" y2="1479.5" stroke="#2ebb49"/>
<line x1="125.7" y1="1479.5" x2="126.8" y2="1479.5" stroke="#2ebb49"/>
<line x1="126.8" y1="1479.5" x2="131.0" y2="1479.0" stroke="#37be3c"/>
<line x1="131.0" y1="1479.0" x2="136.0" y2="1480.0" stroke="#37be3c"/>
<line x1="136.0" y1="1480.0" x2="137.7" y2="1480.7" stroke="#27b85e"/>
<line x1="137.7" y1="1480.7" x2="139.3" y2="1483.0" stroke="#1eb081"/>
<line x1="139.3" y1="1483.0" x2="141.0" y2="1482.5" stroke="#1fa38a"/>
<line x1="141.0" y1="1482.5" x2="142.7" y2="1482.2" stroke="#1f9c90"/>
<line x1="142.7" y1="1482.2" x2="144.3" y2="1480.8" stroke="#209298"/>
<line x1="144.3" y1="1480.8" x2="146.0" y2="1481.5" stroke="#209397"/>
<line x1="146.0" y1="1481.5" x2="147.3" y2="1481.4" stroke="#209893"/>
<line x1="147.3" y1="1481.4" x2="148.7" y2="1479.2" stroke="#228a9f"/>
<line x1="148.7" y1="1479.2" x2="150.0" y2="1480.0" stroke="#2387a2"/>
<line x1="150.0" y1="1480.0" x2="151.5" y2="1480.2" stroke="#208f9b"/>
<line x1="151.5" y1="1480.2" x2="153.0" y2="1483.0" stroke="#2387a2"/>
<line x1="153.0" y1="1483.0" x2="153.8" y2="1480.0" stroke="#2581a8"/>
<line x1="153.8" y1="1480.0" x2="154.6" y2="1477.0" stroke="#267fa9"/>
<line x1="154.6" y1="1477.0" x2="154.8" y2="1480.5" stroke="#2582a7"/>
<line x1="154.8" y1="1480.5" x2="155.1" y2="1484.0" stroke="#2388a1"/>
<line x1="155.1" y1="1484.0" x2="155.3" y2="1487.5" stroke="#218e9c"/>
<line x1="155.3" y1="1487.5" x2="155.6" y2="1491.0" stroke="#209596"/>
<line x1="155.6" y1="1491.0" x2="156.2" y2="1487.5" stroke="#209298"/>
<line x1="156.2" y1="1487.5" x2="156.8" y2="1484.0" stroke="#2387a2"/>
<line x1="156.8" y1="1484.0" x2="158.5" y2="1479.0" stroke="#2483a6"/>
<line x1="158.5" y1="1479.0" x2="161.0" y2="1483.0" stroke="#218e9c"/>
<line x1="161.0" y1="1483.0" x2="162.5" y2="1481.4" stroke="#2388a1"/>
<line x1="162.5" y1="1481.4" x2="164.0" y2="1478.5" stroke="#218d9d"/>
<line x1="164.0" y1="1478.5" x2="165.5" y2="1481.3" stroke="#1fa48a"/>
<line x1="165.5" y1="1481.3" x2="167.0" y2="1481.0" stroke="#1f9c91"/>
<line x1="167.0" y1="1481.0" x2="168.5" y2="1482.7" stroke="#1f9f8e"/>
<line x1="168.5" y1="1482.7" x2="170.0" y2="1483.5" stroke="#24b769"/>
<line x1="170.0" y1="1483.5" x2="175.0" y2="1485.5" stroke="#3abf38"/>
<line x1="175.0" y1="1485.5" x2="180.0" y2="1486.5" stroke="#49c322"/>
<line x1="180.0" y1="1486.5" x2="184.5" y2="1486.0" stroke="#4cc41e"/>
<line x1="184.5" y1="1486.0" x2="186.6" y2="1488.5" stroke="#4cc41e"/>
<line x1="186.6" y1="1488.5" x2="186.6" y2="1492.0" stroke="#4cc41e"/>
<line x1="186.6" y1="1492.0" x2="187.4" y2="1492.0" stroke="#4cc41e"/>
<line x1="187.4" y1="1492.0" x2="187.4" y2="1488.5" stroke="#4cc41e"/>
<line x1="187.4" y1="1488.5" x2="188.2" y2="1488.5" stroke="#53c41e"/>
<line x1="188.2" y1="1488.5" x2="188.3" y2="1491.6" stroke="#59c31e"/>
<line x1="188.3" y1="1491.6" x2="188.3" y2="1494.7" stroke="#59c31e"/>
<line x1="188.3" y1="1494.7" x2="188.3" y2="1497.8" stroke="#59c31e"/>
<line x1="188.3" y1="1497.8" x2="188.3" y2="1500.8" stroke="#59c31e"/>
<line x1="188.3" y1="1500.8" x2="188.3" y2="1503.9" stroke="#59c31e"/>
<line x1="188.3" y1="1503.9" x2="188.3" y2="1507.0" stroke="#59c31e"/>
<line x1="188.3" y1="1507.0" x2="189.1" y2="1507.0" stroke="#59c31e"/>
<line x1="189.1" y1="1507.0" x2="189.1" y2="1503.9" stroke="#59c31e"/>
<line x1="189.1" y1="1503.9" x2="189.1" y2="1500.8" stroke="#59c31e"/>
<line x1="189.1" y1="1500.8" x2="189.1" y2="1497.8" stroke="#59c31e"/>
<line x1="189.1" y1="1497.8" x2="189.1" y2="1494.7" stroke="#59c31e"/>
<line x1="189.1" y1="1494.7" x2="189.1" y2="1491.6" stroke="#59c31e"/>
<line x1="189.1" y1="1491.6" x2="189.1" y2="1488.5" stroke="#59c31e"/>
<line x1="189.1" y1="1488.5" x2="190.6" y2="1488.5" stroke="#59c31e"/>
<line x1="190.6" y1="1488.5" x2="190.6" y2="1491.8" stroke="#59c31e"/>
<line x1="190.6" y1="1491.8" x2="190.6" y2="1495.0" stroke="#59c31e"/>
<line x1="190.6" y1="1495.0" x2="191.4" y2="1495.0" stroke="#59c31e"/>
<line x1="191.4" y1="1495.0" x2="191.4" y2="1491.8" stroke="#59c31e"/>
<line x1="191.4" y1="1491.8" x2="191.4" y2="1488.5" stroke="#59c31e"/>
<line x1="191.4" y1="1488.5" x2="193.0" y2="1488.5" stroke="#53c41e"/>
<line x1="193.0" y1="1488.5" x2="193.0" y2="1491.7" stroke="#4cc41e"/>
<line x1="193.0" y1="1491.7" x2="193.0" y2="1494.9" stroke="#4cc41e"/>
<line x1="193.0" y1="1494.9" x2="193.0" y2="1498.1" stroke="#4cc41e"/>
<line x1="193.0" y1="1498.1" x2="193.0" y2="1501.3" stroke="#4cc41e"/>
<line x1="193.0" y1="1501.3" x2="193.0" y2="1504.5" stroke="#4cc41e"/>
<line x1="193.0" y1="1504.5" x2="193.0" y2="1507.7" stroke="#4cc41e"/>
<line x1="193.0" y1="1507.7" x2="193.0" y2="1510.9" stroke="#4cc41e"/>
<line x1="193.0" y1="1510.9" x2="193.0" y2="1514.1" stroke="#4cc41e"/>
<line x1="193.0" y1="1514.1" x2="193.0" y2="1517.3" stroke="#4cc41e"/>
<line x1="193.0" y1="1517.3" x2="193.0" y2="1520.5" stroke="#4cc41e"/>
<line x1="193.0" y1="1520.5" x2="193.8" y2="1520.5" stroke="#4cc41e"/>
<line x1="193.8" y1="1520.5" x2="193.8" y2="1517.3" stroke="#4cc41e"/>
<line x1="193.8" y1="1517.3" x2="193.8" y2="1514.1" stroke="#4cc41e"/>
<line x1="193.8" y1="1514.1" x2="193.8" y2="1510.9" stroke="#4cc41e"/>
<line x1="193.8" y1="1510.9" x2="193.8" y2="1507.7" stroke="#4cc41e"/>
<line x1="193.8" y1="1507.7" x2="193.8" y2="1504.5" stroke="#4cc41e"/>
<line x1="193.8" y1="1504.5" x2="193.8" y2="1501.3" stroke="#4cc41e"/>
<line x1="193.8" y1="1501.3" x2="193.8" y2="1498.1" stroke="#4cc41e"/>
<line x1="193.8" y1="1498.1" x2="193.8" y2="1494.9" stroke="#4cc41e"/>
<line x1="193.8" y1="1494.9" x2="193.8" y2="1491.7" stroke="#4cc41e"/>
<line x1="193.8" y1="1491.7" x2="193.8" y2="1488.5" stroke="#4cc41e"/>
<line x1="193.8" y1="1488.5" x2="195.6" y2="1488.5" stroke="#53c41e"/>
<line x1="195.6" y1="1488.5" x2="195.6" y2="1491.8" stroke="#59c31e"/>
<line x1="195.6" y1="1491.8" x2="195.6" y2="1495.0" stroke="#59c31e"/>
<line x1="195.6" y1="1495.0" x2="196.4" y2="1495.0" stroke="#59c31e"/>
<line x1="196.4" y1="1495.0" x2="196.4" y2="1491.8" stroke="#59c31e"/>
<line x1="196.4" y1="1491.8" x2="196.4" y2="1488.5" stroke="#59c31e"/>
<line x1="196.4" y1="1488.5" x2="198.2" y2="1488.5" stroke="#53c41e"/>
<line x1="198.2" y1="1488.5" x2="198.2" y2="1492.8" stroke="#4cc41e"/>
<line x1="198.2" y1="1492.8" x2="198.2" y2="1497.0" stroke="#4cc41e"/>
<line x1="198.2" y1="1497.0" x2="199.0" y2="1497.0" stroke="#4cc41e"/>
<line x1="199.0" y1="1497.0" x2="199.0" y2="1492.8" stroke="#4cc41e"/>
<line x1="199.0" y1="1492.8" x2="199.0" y2="1488.5" stroke="#4cc41e"/>
<line x1="199.0" y1="1488.5" x2="200.0" y2="1488.5" stroke="#53c41e"/>
<line x1="200.0" y1="1488.5" x2="200.0" y2="1494.0" stroke="#59c31e"/>
<line x1="200.0" y1="1494.0" x2="200.8" y2="1494.0" stroke="#59c31e"/>
<line x1="200.8" y1="1494.0" x2="200.8" y2="1488.5" stroke="#59c31e"/>
<line x1="200.8" y1="1488.5" x2="201.9" y2="1488.5" stroke="#53c41e"/>
<line x1="201.9" y1="1488.5" x2="201.9" y2="1491.6" stroke="#4cc41e"/>
<line x1="201.9" y1="1491.6" x2="201.9" y2="1494.7" stroke="#4cc41e"/>
<line x1="201.9" y1="1494.7" x2="201.9" y2="1497.8" stroke="#4cc41e"/>
<line x1="201.9" y1="1497.8" x2="201.9" y2="1500.9" stroke="#4cc41e"/>
<line x1="201.9" y1="1500.9" x2="201.9" y2="1504.0" stroke="#4cc41e"/>
<line x1="201.9" y1="1504.0" x2="201.9" y2="1507.1" stroke="#4cc41e"/>
<line x1="201.9" y1="1507.1" x2="201.9" y2="1510.2" stroke="#4cc41e"/>
<line x1="201.9" y1="1510.2" x2="201.9" y2="1513.3" stroke="#4cc41e"/>
<line x1="201.9" y1="1513.3" x2="201.9" y2="1516.4" stroke="#4cc41e"/>
<line x1="201.9" y1="1516.4" x2="201.9" y2="1519.5" stroke="#4cc41e"/>
<line x1="201.9" y1="1519.5" x2="202.7" y2="1519.5" stroke="#4cc41e"/>
<line x1="202.7" y1="1519.5" x2="202.7" y2="1516.4" stroke="#4cc41e"/>
<line x1="202.7" y1="1516.4" x2="202.7" y2="1513.3" stroke="#4cc41e"/>
<line x1="202.7" y1="1513.3" x2="202.7" y2="1510.2" stroke="#4cc41e"/>
<line x1="202.7" y1="1510.2" x2="202.7" y2="1507.1" stroke="#4cc41e"/>
<line x1="202.7" y1="1507.1" x2="202.7" y2="1504.0" stroke="#4cc41e"/>
<line x1="202.7" y1="1504.0" x2="202.7" y2="1500.9" stroke="#4cc41e"/>
<line x1="202.7" y1="1500.9" x2="202.7" y2="1497.8" stroke="#4cc41e"/>
<line x1="202.7" y1="1497.8" x2="202.7" y2="1494.7" stroke="#4cc41e"/>
<line x1="202.7" y1="1494.7" x2="202.7" y2="1491.6" stroke="#4cc41e"/>
<line x1="202.7" y1="1491.6" x2="202.8" y2="1488.5" stroke="#4cc41e"/>
<line x1="202.8" y1="1488.5" x2="205.0" y2="1488.5" stroke="#3dc034"/>
<line x1="205.0" y1="1488.5" x2="205.0" y2="1494.0" stroke="#2ebb49"/>
<line x1="205.0" y1="1494.0" x2="205.8" y2="1494.0" stroke="#2ebb49"/>
<line x1="205.8" y1="1494.0" x2="205.8" y2="1488.5" stroke="#2ebb49"/>
<line x1="205.8" y1="1488.5" x2="206.8" y2="1488.5" stroke="#33bd43"/>
<line x1="206.8" y1="1488.5" x2="206.8" y2="1493.0" stroke="#37be3c"/>
<line x1="206.8" y1="1493.0" x2="207.6" y2="1493.0" stroke="#37be3c"/>
<line x1="207.6" y1="1493.0" x2="207.6" y2="1488.5" stroke="#37be3c"/>
<line x1="207.6" y1="1488.5" x2="208.6" y2="1488.5" stroke="#42c12d"/>
<line x1="208.6" y1="1488.5" x2="208.6" y2="1491.6" stroke="#4cc41e"/>
<line x1="208.6" y1="1491.6" x2="208.6" y2="1494.7" stroke="#4cc41e"/>
<line x1="208.6" y1="1494.7" x2="208.6" y2="1497.8" stroke="#4cc41e"/>
<line x1="208.6" y1="1497.8" x2="208.6" y2="1500.8" stroke="#4cc41e"/>
<line x1="208.6" y1="1500.8" x2="208.6" y2="1503.9" stroke="#4cc41e"/>
<line x1="208.6" y1="1503.9" x2="208.6" y2="1507.0" stroke="#4cc41e"/>
<line x1="208.6" y1="1507.0" x2="209.4" y2="1507.0" stroke="#4cc41e"/>
<line x1="209.4" y1="1507.0" x2="209.4" y2="1503.9" stroke="#4cc41e"/>
<line x1="209.4" y1="1503.9" x2="209.4" y2="1500.8" stroke="#4cc41e"/>
<line x1="209.4" y1="1500.8" x2="209.4" y2="1497.8" stroke="#4cc41e"/>
<line x1="209.4" y1="1497.8" x2="209.4" y2="1494.7" stroke="#4cc41e"/>
<line x1="209.4" y1="1494.7" x2="209.4" y2="1491.6" stroke="#4cc41e"/>
<line x1="209.4" y1="1491.6" x2="209.4" y2="1488.5" stroke="#4cc41e"/>
<line x1="209.4" y1="1488.5" x2="211.9" y2="1488.5" stroke="#53c41e"/>
<line x1="211.9" y1="1488.5" x2="211.9" y2="1494.0" stroke="#59c31e"/>
<line x1="211.9" y1="1494.0" x2="212.7" y2="1494.0" stroke="#59c31e"/>
<line x1="212.7" y1="1494.0" x2="212.8" y2="1488.5" stroke="#59c31e"/>
<line x1="212.8" y1="1488.5" x2="213.6" y2="1488.5" stroke="#63c31f"/>
<line x1="213.6" y1="1488.5" x2="213.6" y2="1492.2" stroke="#6dc21f"/>
<line x1="213.6" y1="1492.2" x2="213.6" y2="1496.0" stroke="#6dc21f"/>
<line x1="213.6" y1="1496.0" x2="214.4" y2="1496.0" stroke="#6dc21f"/>
<line x1="214.4" y1="1496.0" x2="214.4" y2="1492.2" stroke="#6dc21f"/>
<line x1="214.4" y1="1492.2" x2="214.4" y2="1488.5" stroke="#6dc21f"/>
<line x1="214.4" y1="1488.5" x2="215.4" y2="1488.5" stroke="#63c31f"/>
<line x1="215.4" y1="1488.5" x2="215.4" y2="1491.6" stroke="#59c31e"/>
<line x1="215.4" y1="1491.6" x2="215.4" y2="1494.6" stroke="#59c31e"/>
<line x1="215.4" y1="1494.6" x2="215.4" y2="1497.7" stroke="#59c31e"/>
<line x1="215.4" y1="1497.7" x2="215.4" y2="1500.8" stroke="#59c31e"/>
<line x1="215.4" y1="1500.8" x2="215.4" y2="1503.8" stroke="#59c31e"/>
<line x1="215.4" y1="1503.8" x2="215.4" y2="1506.9" stroke="#59c31e"/>
<line x1="215.4" y1="1506.9" x2="215.4" y2="1509.9" stroke="#59c31e"/>
<line x1="215.4" y1="1509.9" x2="215.4" y2="1513.0" stroke="#59c31e"/>
<line x1="215.4" y1="1513.0" x2="216.2" y2="1513.0" stroke="#59c31e"/>
<line x1="216.2" y1="1513.0" x2="216.2" y2="1509.9" stroke="#59c31e"/>
<line x1="216.2" y1="1509.9" x2="216.2" y2="1506.9" stroke="#59c31e"/>
<line x1="216.2" y1="1506.9" x2="216.2" y2="1503.8" stroke="#59c31e"/>
<line x1="216.2" y1="1503.8" x2="216.2" y2="1500.8" stroke="#59c31e"/>
<line x1="216.2" y1="1500.8" x2="216.2" y2="1497.7" stroke="#59c31e"/>
<line x1="216.2" y1="1497.7" x2="216.2" y2="1494.6" stroke="#59c31e"/>
<line x1="216.2" y1="1494.6" x2="216.2" y2="1491.6" stroke="#59c31e"/>
<line x1="216.2" y1="1491.6" x2="216.2" y2="1488.5" stroke="#59c31e"/>
<line x1="216.2" y1="1488.5" x2="218.0" y2="1488.5" stroke="#7ac11f"/>
<line x1="218.0" y1="1488.5" x2="218.0" y2="1491.8" stroke="#9bc020"/>
<line x1="218.0" y1="1491.8" x2="218.0" y2="1495.0" stroke="#9bc020"/>
<line x1="218.0" y1="1495.0" x2="218.8" y2="1495.0" stroke="#9bc020"/>
<line x1="218.8" y1="1495.0" x2="218.8" y2="1491.8" stroke="#9bc020"/>
<line x1="218.8" y1="1491.8" x2="218.8" y2="1488.5" stroke="#9bc020"/>
<line x1="218.8" y1="1488.5" x2="219.6" y2="1488.5" stroke="#8dc020"/>
<line x1="219.6" y1="1488.5" x2="219.6" y2="1492.0" stroke="#80c120"/>
<line x1="219.6" y1="1492.0" x2="219.6" y2="1495.5" stroke="#80c120"/>
<line x1="219.6" y1="1495.5" x2="219.6" y2="1499.0" stroke="#80c120"/>
<line x1="219.6" y1="1499.0" x2="220.4" y2="1499.0" stroke="#80c120"/>
<line x1="220.4" y1="1499.0" x2="220.4" y2="1495.5" stroke="#80c120"/>
<line x1="220.4" y1="1495.5" x2="220.4" y2="1492.0" stroke="#80c120"/>
<line x1="220.4" y1="1492.0" x2="220.4" y2="1488.5" stroke="#80c120"/>
<line x1="220.4" y1="1488.5" x2="220.7" y2="1488.5" stroke="#6dc21f"/>
<line x1="220.7" y1="1488.5" x2="220.7" y2="1491.6" stroke="#59c31e"/>
<line x1="220.7" y1="1491.6" x2="220.7" y2="1494.8" stroke="#59c31e"/>
<line x1="220.7" y1="1494.8" x2="220.7" y2="1497.9" stroke="#59c31e"/>
<line x1="220.7" y1="1497.9" x2="220.7" y2="1501.0" stroke="#59c31e"/>
<line x1="220.7" y1="1501.0" x2="220.7" y2="1504.2" stroke="#59c31e"/>
<line x1="220.7" y1="1504.2" x2="220.7" y2="1507.3" stroke="#59c31e"/>
<line x1="220.7" y1="1507.3" x2="220.7" y2="1510.4" stroke="#59c31e"/>
<line x1="220.7" y1="1510.4" x2="220.7" y2="1513.6" stroke="#59c31e"/>
<line x1="220.7" y1="1513.6" x2="220.7" y2="1516.7" stroke="#59c31e"/>
<line x1="220.7" y1="1516.7" x2="220.7" y2="1519.8" stroke="#59c31e"/>
<line x1="220.7" y1="1519.8" x2="220.7" y2="1523.0" stroke="#59c31e"/>
<line x1="220.7" y1="1523.0" x2="220.7" y2="1526.1" stroke="#59c31e"/>
<line x1="220.7" y1="1526.1" x2="220.7" y2="1529.2" stroke="#59c31e"/>
<line x1="220.7" y1="1529.2" x2="220.7" y2="1532.4" stroke="#59c31e"/>
<line x1="220.7" y1="1532.4" x2="220.7" y2="1535.5" stroke="#59c31e"/>
<line x1="220.7" y1="1535.5" x2="221.5" y2="1535.5" stroke="#59c31e"/>
<line x1="221.5" y1="1535.5" x2="221.5" y2="1532.4" stroke="#59c31e"/>
<line x1="221.5" y1="1532.4" x2="221.5" y2="1529.2" stroke="#59c31e"/>
<line x1="221.5" y1="1529.2" x2="221.5" y2="1526.1" stroke="#59c31e"/>
<line x1="221.5" y1="1526.1" x2="221.5" y2="1523.0" stroke="#59c31e"/>
<line x1="221.5" y1="1523.0" x2="221.5" y2="1519.8" stroke="#59c31e"/>
<line x1="221.5" y1="1519.8" x2="221.5" y2="1516.7" stroke="#59c31e"/>
<line x1="221.5" y1="1516.7" x2="221.5" y2="1513.6" stroke="#59c31e"/>
<line x1="221.5" y1="1513.6" x2="221.5" y2="1510.4" stroke="#59c31e"/>
<line x1="221.5" y1="1510.4" x2="221.5" y2="1507.3" stroke="#59c31e"/>
<line x1="221.5" y1="1507.3" x2="221.5" y2="1504.2" stroke="#59c31e"/>
<line x1="221.5" y1="1504.2" x2="221.5" y2="1501.0" stroke="#59c31e"/>
<line x1="221.5" y1="1501.0" x2="221.5" y2="1497.9" stroke="#59c31e"/>
<line x1="221.5" y1="1497.9" x2="221.5" y2="1494.8" stroke="#59c31e"/>
<line x1="221.5" y1="1494.8" x2="221.5" y2="1491.6" stroke="#59c31e"/>
<line x1="221.5" y1="1491.6" x2="221.5" y2="1488.5" stroke="#59c31e"/>
<line x1="221.5" y1="1488.5" x2="222.4" y2="1488.5" stroke="#59c31e"/>
<line x1="222.4" y1="1488.5" x2="222.4" y2="1492.0" stroke="#59c31e"/>
<line x1="222.4" y1="1492.0" x2="222.4" y2="1495.5" stroke="#59c31e"/>
<line x1="222.4" y1="1495.5" x2="222.4" y2="1499.0" stroke="#59c31e"/>
<line x1="222.4" y1="1499.0" x2="223.2" y2="1499.0" stroke="#59c31e"/>
<line x1="223.2" y1="1499.0" x2="223.2" y2="1495.5" stroke="#59c31e"/>
<line x1="223.2" y1="1495.5" x2="223.2" y2="1492.0" stroke="#59c31e"/>
<line x1="223.2" y1="1492.0" x2="223.2" y2="1488.5" stroke="#59c31e"/>
<line x1="223.2" y1="1488.5" x2="224.4" y2="1488.5" stroke="#59c31e"/>
<line x1="224.4" y1="1488.5" x2="224.4" y2="1491.7" stroke="#59c31e"/>
<line x1="224.4" y1="1491.7" x2="224.4" y2="1494.9" stroke="#59c31e"/>
<line x1="224.4" y1="1494.9" x2="224.4" y2="1498.1" stroke="#59c31e"/>
<line x1="224.4" y1="1498.1" x2="224.4" y2="1501.4" stroke="#59c31e"/>
<line x1="224.4" y1="1501.4" x2="224.4" y2="1504.6" stroke="#59c31e"/>
<line x1="224.4" y1="1504.6" x2="224.4" y2="1507.8" stroke="#59c31e"/>
<line x1="224.4" y1="1507.8" x2="224.4" y2="1511.0" stroke="#59c31e"/>
<line x1="224.4" y1="1511.0" x2="225.2" y2="1511.0" stroke="#59c31e"/>
<line x1="225.2" y1="1511.0" x2="225.2" y2="1507.8" stroke="#59c31e"/>
<line x1="225.2" y1="1507.8" x2="225.2" y2="1504.6" stroke="#59c31e"/>
<line x1="225.2" y1="1504.6" x2="225.2" y2="1501.4" stroke="#59c31e"/>
<line x1="225.2" y1="1501.4" x2="225.2" y2="1498.1" stroke="#59c31e"/>
<line x1="225.2" y1="1498.1" x2="225.2" y2="1494.9" stroke="#59c31e"/>
<line x1="225.2" y1="1494.9" x2="225.2" y2="1491.7" stroke="#59c31e"/>
<line x1="225.2" y1="1491.7" x2="225.2" y2="1488.5" stroke="#59c31e"/>
<line x1="225.2" y1="1488.5" x2="226.2" y2="1488.5" stroke="#53c41e"/>
<line x1="226.2" y1="1488.5" x2="226.2" y2="1491.8" stroke="#4cc41e"/>
<line x1="226.2" y1="1491.8" x2="226.2" y2="1495.0" stroke="#4cc41e"/>
<line x1="226.2" y1="1495.0" x2="227.0" y2="1495.0" stroke="#4cc41e"/>
<line x1="227.0" y1="1495.0" x2="227.0" y2="1491.8" stroke="#4cc41e"/>
<line x1="227.0" y1="1491.8" x2="227.0" y2="1488.5" stroke="#4cc41e"/>
<line x1="227.0" y1="1488.5" x2="228.8" y2="1484.0" stroke="#45c229"/>
<line x1="228.8" y1="1484.0" x2="231.0" y2="1481.5" stroke="#26b863"/>
<line x1="231.0" y1="1481.5" x2="232.5" y2="1479.9" stroke="#2289a0"/>
<line x1="232.5" y1="1479.9" x2="234.0" y2="1480.5" stroke="#267eaa"/>
<line x1="234.0" y1="1480.5" x2="235.5" y2="1481.1" stroke="#267eaa"/>
<line x1="235.5" y1="1481.1" x2="237.0" y2="1481.5" stroke="#277bad"/>
<line x1="237.0" y1="1481.5" x2="238.5" y2="1481.8" stroke="#267fa9"/>
<line x1="238.5" y1="1481.8" x2="240.0" y2="1484.0" stroke="#218d9d"/>
<line x1="240.0" y1="1484.0" x2="241.5" y2="1482.2" stroke="#1f9f8e"/>
<line x1="241.5" y1="1482.2" x2="243.0" y2="1483.5" stroke="#1fa887"/>
<line x1="243.0" y1="1483.5" x2="244.6" y2="1480.0" stroke="#1eb47d"/>
<line x1="244.6" y1="1480.0" x2="244.8" y2="1476.5" stroke="#1eb47d"/>
<line x1="244.8" y1="1476.5" x2="244.9" y2="1473.0" stroke="#1eb47d"/>
<line x1="244.9" y1="1473.0" x2="245.1" y2="1469.5" stroke="#1eb47d"/>
<line x1="245.1" y1="1469.5" x2="245.2" y2="1466.0" stroke="#1eb47d"/>
<line x1="245.2" y1="1466.0" x2="245.4" y2="1462.5" stroke="#1eb47d"/>
<line x1="245.4" y1="1462.5" x2="245.6" y2="1466.0" stroke="#1eb47c"/>
<line x1="245.6" y1="1466.0" x2="245.7" y2="1469.5" stroke="#1fb47a"/>
<line x1="245.7" y1="1469.5" x2="245.9" y2="1473.0" stroke="#20b578"/>
<line x1="245.9" y1="1473.0" x2="246.0" y2="1476.5" stroke="#20b576"/>
<line x1="246.0" y1="1476.5" x2="246.2" y2="1480.0" stroke="#21b574"/>
<line x1="246.2" y1="1480.0" x2="246.6" y2="1484.0" stroke="#28b95b"/>
<line x1="246.6" y1="1484.0" x2="247.1" y2="1488.0" stroke="#3fc031"/>
<line x1="247.1" y1="1488.0" x2="247.1" y2="1491.4" stroke="#4cc41e"/>
<line x1="247.1" y1="1491.4" x2="247.1" y2="1494.8" stroke="#4cc41e"/>
<line x1="247.1" y1="1494.8" x2="247.1" y2="1498.2" stroke="#4cc41e"/>
<line x1="247.1" y1="1498.2" x2="247.1" y2="1501.6" stroke="#4cc41e"/>
<line x1="247.1" y1="1501.6" x2="247.1" y2="1505.0" stroke="#4cc41e"/>
<line x1="247.1" y1="1505.0" x2="247.9" y2="1505.0" stroke="#4cc41e"/>
<line x1="247.9" y1="1505.0" x2="247.9" y2="1501.6" stroke="#4cc41e"/>
<line x1="247.9" y1="1501.6" x2="247.9" y2="1498.2" stroke="#4cc41e"/>
<line x1="247.9" y1="1498.2" x2="247.9" y2="1494.8" stroke="#4cc41e"/>
<line x1="247.9" y1="1494.8" x2="247.9" y2="1491.4" stroke="#4cc41e"/>
<line x1="247.9" y1="1491.4" x2="247.9" y2="1488.0" stroke="#4cc41e"/>
<line x1="247.9" y1="1488.0" x2="249.2" y2="1488.0" stroke="#4cc41e"/>
<line x1="249.2" y1="1488.0" x2="249.2" y2="1493.0" stroke="#4cc41e"/>
<line x1="249.2" y1="1493.0" x2="250.0" y2="1493.0" stroke="#4cc41e"/>
<line x1="250.0" y1="1493.0" x2="250.0" y2="1488.0" stroke="#4cc41e"/>
<line x1="250.0" y1="1488.0" x2="251.0" y2="1488.0" stroke="#53c41e"/>
<line x1="251.0" y1="1488.0" x2="251.0" y2="1491.0" stroke="#59c31e"/>
<line x1="251.0" y1="1491.0" x2="251.0" y2="1494.0" stroke="#59c31e"/>
<line x1="251.0" y1="1494.0" x2="251.8" y2="1494.0" stroke="#59c31e"/>
<line x1="251.8" y1="1494.0" x2="251.8" y2="1491.0" stroke="#59c31e"/>
<line x1="251.8" y1="1491.0" x2="251.8" y2="1488.0" stroke="#59c31e"/>
<line x1="251.8" y1="1488.0" x2="252.8" y2="1488.0" stroke="#63c31f"/>
<line x1="252.8" y1="1488.0" x2="252.8" y2="1492.0" stroke="#6dc21f"/>
<line x1="252.8" y1="1492.0" x2="252.8" y2="1496.0" stroke="#6dc21f"/>
<line x1="252.8" y1="1496.0" x2="253.6" y2="1496.0" stroke="#6dc21f"/>
<line x1="253.6" y1="1496.0" x2="253.6" y2="1492.0" stroke="#6dc21f"/>
<line x1="253.6" y1="1492.0" x2="253.6" y2="1488.0" stroke="#6dc21f"/>
<line x1="253.6" y1="1488.0" x2="255.5" y2="1488.0" stroke="#63c31f"/>
<line x1="255.5" y1="1488.0" x2="255.5" y2="1491.0" stroke="#59c31e"/>
<line x1="255.5" y1="1491.0" x2="255.5" y2="1494.0" stroke="#59c31e"/>
<line x1="255.5" y1="1494.0" x2="255.5" y2="1497.0" stroke="#59c31e"/>
<line x1="255.5" y1="1497.0" x2="255.5" y2="1500.0" stroke="#59c31e"/>
<line x1="255.5" y1="1500.0" x2="255.5" y2="1503.0" stroke="#59c31e"/>
<line x1="255.5" y1="1503.0" x2="255.5" y2="1506.0" stroke="#59c31e"/>
<line x1="255.5" y1="1506.0" x2="255.5" y2="1509.0" stroke="#59c31e"/>
<line x1="255.5" y1="1509.0" x2="255.5" y2="1512.0" stroke="#59c31e"/>
<line x1="255.5" y1="1512.0" x2="255.5" y2="1515.0" stroke="#59c31e"/>
<line x1="255.5" y1="1515.0" x2="255.5" y2="1518.0" stroke="#59c31e"/>
<line x1="255.5" y1="1518.0" x2="255.5" y2="1521.0" stroke="#59c31e"/>
<line x1="255.5" y1="1521.0" x2="255.5" y2="1524.0" stroke="#59c31e"/>
<line x1="255.5" y1="1524.0" x2="255.5" y2="1527.0" stroke="#59c31e"/>
<line x1="255.5" y1="1527.0" x2="256.3" y2="1527.0" stroke="#59c31e"/>
<line x1="256.3" y1="1527.0" x2="256.3" y2="1524.0" stroke="#59c31e"/>
<line x1="256.3" y1="1524.0" x2="256.3" y2="1521.0" stroke="#59c31e"/>
<line x1="256.3" y1="1521.0" x2="256.3" y2="1518.0" stroke="#59c31e"/>
<line x1="256.3" y1="1518.0" x2="256.3" y2="1515.0" stroke="#59c31e"/>
<line x1="256.3" y1="1515.0" x2="256.3" y2="1512.0" stroke="#59c31e"/>
<line x1="256.3" y1="1512.0" x2="256.3" y2="1509.0" stroke="#59c31e"/>
<line x1="256.3" y1="1509.0" x2="256.3" y2="1506.0" stroke="#59c31e"/>
<line x1="256.3" y1="1506.0" x2="256.3" y2="1503.0" stroke="#59c31e"/>
<line x1="256.3" y1="1503.0" x2="256.3" y2="1500.0" stroke="#59c31e"/>
<line x1="256.3" y1="1500.0" x2="256.3" y2="1497.0" stroke="#59c31e"/>
<line x1="256.3" y1="1497.0" x2="256.3" y2="1494.0" stroke="#59c31e"/>
<line x1="256.3" y1="1494.0" x2="256.3" y2="1491.0" stroke="#59c31e"/>
<line x1="256.3" y1="1491.0" x2="256.4" y2="1488.0" stroke="#59c31e"/>
<line x1="256.4" y1="1488.0" x2="257.9" y2="1488.0" stroke="#59c31e"/>
<line x1="257.9" y1="1488.0" x2="258.0" y2="1491.5" stroke="#59c31e"/>
<line x1="258.0" y1="1491.5" x2="258.0" y2="1495.0" stroke="#59c31e"/>
<line x1="258.0" y1="1495.0" x2="258.8" y2="1495.0" stroke="#59c31e"/>
<line x1="258.8" y1="1495.0" x2="258.8" y2="1491.5" stroke="#59c31e"/>
<line x1="258.8" y1="1491.5" x2="258.8" y2="1488.0" stroke="#59c31e"/>
<line x1="258.8" y1="1488.0" x2="260.2" y2="1488.0" stroke="#59c31e"/>
<line x1="260.2" y1="1488.0" x2="260.3" y2="1491.1" stroke="#59c31e"/>
<line x1="260.3" y1="1491.1" x2="260.3" y2="1494.2" stroke="#59c31e"/>
<line x1="260.3" y1="1494.2" x2="260.3" y2="1497.3" stroke="#59c31e"/>
<line x1="260.3" y1="1497.3" x2="260.3" y2="1500.4" stroke="#59c31e"/>
<line x1="260.3" y1="1500.4" x2="260.3" y2="1503.5" stroke="#59c31e"/>
<line x1="260.3" y1="1503.5" x2="260.3" y2="1506.5" stroke="#59c31e"/>
<line x1="260.3" y1="1506.5" x2="260.3" y2="1509.6" stroke="#59c31e"/>
<line x1="260.3" y1="1509.6" x2="260.3" y2="1512.7" stroke="#59c31e"/>
<line x1="260.3" y1="1512.7" x2="260.3" y2="1515.8" stroke="#59c31e"/>
<line x1="260.3" y1="1515.8" x2="260.3" y2="1518.9" stroke="#59c31e"/>
<line x1="260.3" y1="1518.9" x2="260.3" y2="1522.0" stroke="#59c31e"/>
<line x1="260.3" y1="1522.0" x2="261.1" y2="1522.0" stroke="#59c31e"/>
<line x1="261.1" y1="1522.0" x2="261.1" y2="1518.9" stroke="#59c31e"/>
<line x1="261.1" y1="1518.9" x2="261.1" y2="1515.8" stroke="#59c31e"/>
<line x1="261.1" y1="1515.8" x2="261.1" y2="1512.7" stroke="#59c31e"/>
<line x1="261.1" y1="1512.7" x2="261.1" y2="1509.6" stroke="#59c31e"/>
<line x1="261.1" y1="1509.6" x2="261.1" y2="1506.5" stroke="#59c31e"/>
<line x1="261.1" y1="1506.5" x2="261.1" y2="1503.5" stroke="#59c31e"/>
<line x1="261.1" y1="1503.5" x2="261.1" y2="1500.4" stroke="#59c31e"/>
<line x1="261.1" y1="1500.4" x2="261.1" y2="1497.3" stroke="#59c31e"/>
<line x1="261.1" y1="1497.3" x2="261.1" y2="1494.2" stroke="#59c31e"/>
<line x1="261.1" y1="1494.2" x2="261.1" y2="1491.1" stroke="#59c31e"/>
<line x1="261.1" y1="1491.1" x2="261.1" y2="1488.0" stroke="#59c31e"/>
<line x1="261.1" y1="1488.0" x2="262.4" y2="1488.0" stroke="#63c31f"/>
<line x1="262.4" y1="1488.0" x2="262.4" y2="1491.0" stroke="#6dc21f"/>
<line x1="262.4" y1="1491.0" x2="262.4" y2="1494.0" stroke="#6dc21f"/>
<line x1="262.4" y1="1494.0" x2="263.2" y2="1494.0" stroke="#6dc21f"/>
<line x1="263.2" y1="1494.0" x2="263.2" y2="1491.0" stroke="#6dc21f"/>
<line x1="263.2" y1="1491.0" x2="263.2" y2="1488.0" stroke="#6dc21f"/>
<line x1="263.2" y1="1488.0" x2="264.2" y2="1488.0" stroke="#6dc21f"/>
<line x1="264.2" y1="1488.0" x2="264.2" y2="1491.5" stroke="#6dc21f"/>
<line x1="264.2" y1="1491.5" x2="264.2" y2="1495.0" stroke="#6dc21f"/>
<line x1="264.2" y1="1495.0" x2="265.0" y2="1495.0" stroke="#6dc21f"/>
<line x1="265.0" y1="1495.0" x2="265.0" y2="1491.5" stroke="#6dc21f"/>
<line x1="265.0" y1="1491.5" x2="265.1" y2="1488.0" stroke="#6dc21f"/>
<line x1="265.1" y1="1488.0" x2="266.4" y2="1488.0" stroke="#63c31f"/>
<line x1="266.4" y1="1488.0" x2="266.5" y2="1491.0" stroke="#59c31e"/>
<line x1="266.5" y1="1491.0" x2="266.5" y2="1494.0" stroke="#59c31e"/>
<line x1="266.5" y1="1494.0" x2="266.5" y2="1497.0" stroke="#59c31e"/>
<line x1="266.5" y1="1497.0" x2="266.5" y2="1500.0" stroke="#59c31e"/>
<line x1="266.5" y1="1500.0" x2="266.5" y2="1503.0" stroke="#59c31e"/>
<line x1="266.5" y1="1503.0" x2="266.5" y2="1506.0" stroke="#59c31e"/>
<line x1="266.5" y1="1506.0" x2="266.5" y2="1509.0" stroke="#59c31e"/>
<line x1="266.5" y1="1509.0" x2="266.5" y2="1512.0" stroke="#59c31e"/>
<line x1="266.5" y1="1512.0" x2="266.5" y2="1515.0" stroke="#59c31e"/>
<line x1="266.5" y1="1515.0" x2="266.5" y2="1518.0" stroke="#59c31e"/>
<line x1="266.5" y1="1518.0" x2="266.5" y2="1521.0" stroke="#59c31e"/>
<line x1="266.5" y1="1521.0" x2="266.5" y2="1524.0" stroke="#59c31e"/>
<line x1="266.5" y1="1524.0" x2="266.5" y2="1527.0" stroke="#59c31e"/>
<line x1="266.5" y1="1527.0" x2="267.3" y2="1527.0" stroke="#59c31e"/>
<line x1="267.3" y1="1527.0" x2="267.3" y2="1524.0" stroke="#59c31e"/>
<line x1="267.3" y1="1524.0" x2="267.3" y2="1521.0" stroke="#59c31e"/>
<line x1="267.3" y1="1521.0" x2="267.3" y2="1518.0" stroke="#59c31e"/>
<line x1="267.3" y1="1518.0" x2="267.3" y2="1515.0" stroke="#59c31e"/>
<line x1="267.3" y1="1515.0" x2="267.3" y2="1512.0" stroke="#59c31e"/>
<line x1="267.3" y1="1512.0" x2="267.3" y2="1509.0" stroke="#59c31e"/>
<line x1="267.3" y1="1509.0" x2="267.3" y2="1506.0" stroke="#59c31e"/>
<line x1="267.3" y1="1506.0" x2="267.3" y2="1503.0" stroke="#59c31e"/>
<line x1="267.3" y1="1503.0" x2="267.3" y2="1500.0" stroke="#59c31e"/>
<line x1="267.3" y1="1500.0" x2="267.3" y2="1497.0" stroke="#59c31e"/>
<line x1="267.3" y1="1497.0" x2="267.3" y2="1494.0" stroke="#59c31e"/>
<line x1="267.3" y1="1494.0" x2="267.3" y2="1491.0" stroke="#59c31e"/>
<line x1="267.3" y1="1491.0" x2="267.3" y2="1488.0" stroke="#59c31e"/>
<line x1="267.3" y1="1488.0" x2="268.8" y2="1488.0" stroke="#53c41e"/>
<line x1="268.8" y1="1488.0" x2="268.8" y2="1491.0" stroke="#4cc41e"/>
<line x1="268.8" y1="1491.0" x2="268.8" y2="1494.0" stroke="#4cc41e"/>
<line x1="268.8" y1="1494.0" x2="269.6" y2="1494.0" stroke="#4cc41e"/>
<line x1="269.6" y1="1494.0" x2="269.6" y2="1491.0" stroke="#4cc41e"/>
<line x1="269.6" y1="1491.0" x2="269.6" y2="1488.0" stroke="#4cc41e"/>
<line x1="269.6" y1="1488.0" x2="270.2" y2="1488.0" stroke="#4cc41e"/>
<line x1="270.2" y1="1488.0" x2="270.2" y2="1491.5" stroke="#4cc41e"/>
<line x1="270.2" y1="1491.5" x2="270.2" y2="1495.0" stroke="#4cc41e"/>
<line x1="270.2" y1="1495.0" x2="271.0" y2="1495.0" stroke="#4cc41e"/>
<line x1="271.0" y1="1495.0" x2="271.0" y2="1491.5" stroke="#4cc41e"/>
<line x1="271.0" y1="1491.5" x2="271.1" y2="1488.0" stroke="#4cc41e"/>
<line x1="271.1" y1="1488.0" x2="271.9" y2="1488.0" stroke="#53c41e"/>
<line x1="271.9" y1="1488.0" x2="272.0" y2="1491.3" stroke="#59c31e"/>
<line x1="272.0" y1="1491.3" x2="272.0" y2="1494.6" stroke="#59c31e"/>
<line x1="272.0" y1="1494.6" x2="272.0" y2="1497.8" stroke="#59c31e"/>
<line x1="272.0" y1="1497.8" x2="272.0" y2="1501.1" stroke="#59c31e"/>
<line x1="272.0" y1="1501.1" x2="272.0" y2="1504.4" stroke="#59c31e"/>
<line x1="272.0" y1="1504.4" x2="272.0" y2="1507.7" stroke="#59c31e"/>
<line x1="272.0" y1="1507.7" x2="272.0" y2="1510.9" stroke="#59c31e"/>
<line x1="272.0" y1="1510.9" x2="272.0" y2="1514.2" stroke="#59c31e"/>
<line x1="272.0" y1="1514.2" x2="272.0" y2="1517.5" stroke="#59c31e"/>
<line x1="272.0" y1="1517.5" x2="272.8" y2="1517.5" stroke="#59c31e"/>
<line x1="272.8" y1="1517.5" x2="272.8" y2="1514.2" stroke="#59c31e"/>
<line x1="272.8" y1="1514.2" x2="272.8" y2="1510.9" stroke="#59c31e"/>
<line x1="272.8" y1="1510.9" x2="272.8" y2="1507.7" stroke="#59c31e"/>
<line x1="272.8" y1="1507.7" x2="272.8" y2="1504.4" stroke="#59c31e"/>
<line x1="272.8" y1="1504.4" x2="272.8" y2="1501.1" stroke="#59c31e"/>
<line x1="272.8" y1="1501.1" x2="272.8" y2="1497.8" stroke="#59c31e"/>
<line x1="272.8" y1="1497.8" x2="272.8" y2="1494.6" stroke="#59c31e"/>
<line x1="272.8" y1="1494.6" x2="272.8" y2="1491.3" stroke="#59c31e"/>
<line x1="272.8" y1="1491.3" x2="272.8" y2="1488.0" stroke="#59c31e"/>
<line x1="272.8" y1="1488.0" x2="274.2" y2="1488.0" stroke="#59c31e"/>
<line x1="274.2" y1="1488.0" x2="274.2" y2="1491.0" stroke="#59c31e"/>
<line x1="274.2" y1="1491.0" x2="274.2" y2="1494.0" stroke="#59c31e"/>
<line x1="274.2" y1="1494.0" x2="275.0" y2="1494.0" stroke="#59c31e"/>
<line x1="275.0" y1="1494.0" x2="275.0" y2="1491.0" stroke="#59c31e"/>
<line x1="275.0" y1="1491.0" x2="275.1" y2="1488.0" stroke="#59c31e"/>
<line x1="275.1" y1="1488.0" x2="275.8" y2="1488.0" stroke="#59c31e"/>
<line x1="275.8" y1="1488.0" x2="275.8" y2="1492.0" stroke="#59c31e"/>
<line x1="275.8" y1="1492.0" x2="276.6" y2="1492.0" stroke="#59c31e"/>
<line x1="276.6" y1="1492.0" x2="276.6" y2="1488.0" stroke="#59c31e"/>
<line x1="276.6" y1="1488.0" x2="278.0" y2="1486.0" stroke="#53c41e"/>
<line x1="278.0" y1="1486.0" x2="281.0" y2="1483.0" stroke="#45c229"/>
<line x1="281.0" y1="1483.0" x2="285.0" y2="1481.0" stroke="#36be3e"/>
<line x1="285.0" y1="1481.0" x2="286.3" y2="1480.8" stroke="#2cbb4e"/>
<line x1="286.3" y1="1480.8" x2="287.7" y2="1481.1" stroke="#26b864"/>
<line x1="287.7" y1="1481.1" x2="289.0" y2="1481.0" stroke="#1fb579"/>
<line x1="289.0" y1="1481.0" x2="290.8" y2="1481.5" stroke="#1ead82"/>
<line x1="290.8" y1="1481.5" x2="292.5" y2="1482.0" stroke="#1fa589"/>
<line x1="292.5" y1="1482.0" x2="293.4" y2="1485.0" stroke="#1eab84"/>
<line x1="293.4" y1="1485.0" x2="294.2" y2="1488.0" stroke="#22b670"/>
<line x1="294.2" y1="1488.0" x2="294.3" y2="1491.0" stroke="#27b85d"/>
<line x1="294.3" y1="1491.0" x2="294.4" y2="1494.1" stroke="#2bba52"/>
<line x1="294.4" y1="1494.1" x2="294.5" y2="1497.1" stroke="#2fbc48"/>
<line x1="294.5" y1="1497.1" x2="294.5" y2="1500.2" stroke="#36be3e"/>
<line x1="294.5" y1="1500.2" x2="294.6" y2="1503.2" stroke="#3cbf35"/>
<line x1="294.6" y1="1503.2" x2="294.7" y2="1506.3" stroke="#42c12c"/>
<line x1="294.7" y1="1506.3" x2="294.8" y2="1509.3" stroke="#49c323"/>
<line x1="294.8" y1="1509.3" x2="296.4" y2="1509.3" stroke="#4cc41e"/>
<line x1="296.4" y1="1509.3" x2="296.5" y2="1506.3" stroke="#48c324"/>
<line x1="296.5" y1="1506.3" x2="296.6" y2="1503.2" stroke="#3fc031"/>
<line x1="296.6" y1="1503.2" x2="296.7" y2="1500.2" stroke="#37be3d"/>
<line x1="296.7" y1="1500.2" x2="296.9" y2="1497.1" stroke="#2ebb49"/>
<line x1="296.9" y1="1497.1" x2="297.0" y2="1494.1" stroke="#29b958"/>
<line x1="297.0" y1="1494.1" x2="297.1" y2="1491.0" stroke="#25b767"/>
<line x1="297.1" y1="1491.0" x2="297.2" y2="1488.0" stroke="#20b576"/>
<line x1="297.2" y1="1488.0" x2="297.6" y2="1484.5" stroke="#1eb27f"/>
<line x1="297.6" y1="1484.5" x2="298.0" y2="1481.0" stroke="#1eae82"/>
<line x1="298.0" y1="1481.0" x2="298.4" y2="1477.5" stroke="#1fa986"/>
<line x1="298.4" y1="1477.5" x2="298.8" y2="1474.0" stroke="#1fa589"/>
<line x1="298.8" y1="1474.0" x2="299.1" y2="1470.5" stroke="#1fa589"/>
<line x1="299.1" y1="1470.5" x2="299.4" y2="1467.0" stroke="#1fa986"/>
<line x1="299.4" y1="1467.0" x2="299.7" y2="1463.5" stroke="#1eae82"/>
<line x1="299.7" y1="1463.5" x2="300.0" y2="1460.0" stroke="#1eb27f"/>
<line x1="300.0" y1="1460.0" x2="300.2" y2="1456.5" stroke="#20b576"/>
<line x1="300.2" y1="1456.5" x2="300.5" y2="1453.0" stroke="#24b769"/>
<line x1="300.5" y1="1453.0" x2="300.8" y2="1449.5" stroke="#28b95c"/>
<line x1="300.8" y1="1449.5" x2="301.0" y2="1446.0" stroke="#2cba4f"/>
<line x1="301.0" y1="1446.0" x2="301.2" y2="1442.8" stroke="#33bd43"/>
<line x1="301.2" y1="1442.8" x2="301.4" y2="1439.5" stroke="#3cbf36"/>
<line x1="301.4" y1="1439.5" x2="301.6" y2="1436.2" stroke="#45c229"/>
<line x1="301.6" y1="1436.2" x2="301.8" y2="1433.0" stroke="#4fc41e"/>
<line x1="301.8" y1="1433.0" x2="302.1" y2="1429.8" stroke="#60c31f"/>
<line x1="302.1" y1="1429.8" x2="302.3" y2="1426.7" stroke="#6dc21f"/>
<line x1="302.3" y1="1426.7" x2="302.6" y2="1423.5" stroke="#7ac11f"/>
<line x1="302.6" y1="1423.5" x2="303.6" y2="1425.0" stroke="#87c120"/>
<line x1="303.6" y1="1425.0" x2="303.8" y2="1428.4" stroke="#8dc020"/>
<line x1="303.8" y1="1428.4" x2="303.9" y2="1431.8" stroke="#8dc020"/>
<line x1="303.9" y1="1431.8" x2="304.1" y2="1435.2" stroke="#8dc020"/>
<line x1="304.1" y1="1435.2" x2="304.2" y2="1438.6" stroke="#8dc020"/>
<line x1="304.2" y1="1438.6" x2="304.4" y2="1442.0" stroke="#8dc020"/>
<line x1="304.4" y1="1442.0" x2="304.5" y2="1445.1" stroke="#8bc020"/>
<line x1="304.5" y1="1445.1" x2="304.6" y2="1448.3" stroke="#86c120"/>
<line x1="304.6" y1="1448.3" x2="304.7" y2="1451.4" stroke="#82c120"/>
<line x1="304.7" y1="1451.4" x2="304.9" y2="1454.6" stroke="#7dc11f"/>
<line x1="304.9" y1="1454.6" x2="305.0" y2="1457.7" stroke="#78c11f"/>
<line x1="305.0" y1="1457.7" x2="305.1" y2="1460.9" stroke="#74c21f"/>
<line x1="305.1" y1="1460.9" x2="305.2" y2="1464.0" stroke="#6fc21f"/>
<line x1="305.2" y1="1464.0" x2="305.4" y2="1467.5" stroke="#69c21f"/>
<line x1="305.4" y1="1467.5" x2="305.7" y2="1471.0" stroke="#60c31f"/>
<line x1="305.7" y1="1471.0" x2="305.9" y2="1474.5" stroke="#58c31e"/>
<line x1="305.9" y1="1474.5" x2="306.2" y2="1478.0" stroke="#50c41e"/>
<line x1="306.2" y1="1478.0" x2="306.9" y2="1481.0" stroke="#48c323"/>
<line x1="306.9" y1="1481.0" x2="307.5" y2="1484.0" stroke="#41c12e"/>
<line x1="307.5" y1="1484.0" x2="311.0" y2="1479.5" stroke="#36be3e"/>
<line x1="311.0" y1="1479.5" x2="312.5" y2="1481.1" stroke="#24b76a"/>
<line x1="312.5" y1="1481.1" x2="314.0" y2="1483.0" stroke="#1eb081"/>
<line x1="314.0" y1="1483.0" x2="315.3" y2="1483.9" stroke="#1fb47a"/>
<line x1="315.3" y1="1483.9" x2="316.7" y2="1482.8" stroke="#1eac84"/>
<line x1="316.7" y1="1482.8" x2="318.0" y2="1481.0" stroke="#1f9c91"/>
<line x1="318.0" y1="1481.0" x2="319.3" y2="1481.2" stroke="#2289a0"/>
<line x1="319.3" y1="1481.2" x2="320.7" y2="1482.0" stroke="#2877b1"/>
<line x1="320.7" y1="1482.0" x2="322.0" y2="1483.5" stroke="#2582a7"/>
<line x1="322.0" y1="1483.5" x2="323.3" y2="1483.9" stroke="#228b9e"/>
<line x1="323.3" y1="1483.9" x2="324.7" y2="1483.6" stroke="#2387a2"/>
<line x1="324.7" y1="1483.6" x2="326.0" y2="1482.0" stroke="#209695"/>
<line x1="326.0" y1="1482.0" x2="327.8" y2="1484.0" stroke="#1fa18c"/>
<line x1="327.8" y1="1484.0" x2="329.5" y2="1483.0" stroke="#209893"/>
<line x1="329.5" y1="1483.0" x2="330.2" y2="1480.0" stroke="#1f9a92"/>
<line x1="330.2" y1="1480.0" x2="331.0" y2="1477.0" stroke="#1eab84"/>
<line x1="331.0" y1="1477.0" x2="331.8" y2="1480.0" stroke="#1ead83"/>
<line x1="331.8" y1="1480.0" x2="332.5" y2="1483.0" stroke="#1f9f8e"/>
<line x1="332.5" y1="1483.0" x2="334.0" y2="1481.1" stroke="#2289a0"/>
<line x1="334.0" y1="1481.1" x2="335.5" y2="1483.6" stroke="#2580a9"/>
<line x1="335.5" y1="1483.6" x2="337.0" y2="1482.0" stroke="#228b9e"/>
<line x1="337.0" y1="1482.0" x2="338.7" y2="1484.0" stroke="#2387a2"/>
<line x1="338.7" y1="1484.0" x2="340.3" y2="1481.6" stroke="#2582a6"/>
<line x1="340.3" y1="1481.6" x2="342.0" y2="1483.5" stroke="#2289a0"/>
<line x1="342.0" y1="1483.5" x2="343.7" y2="1483.9" stroke="#2483a6"/>
<line x1="343.7" y1="1483.9" x2="345.3" y2="1481.2" stroke="#267fa9"/>
<line x1="345.3" y1="1481.2" x2="347.0" y2="1482.0" stroke="#209398"/>
<line x1="347.0" y1="1482.0" x2="348.7" y2="1483.8" stroke="#1fa18c"/>
<line x1="348.7" y1="1483.8" x2="350.3" y2="1481.4" stroke="#20909a"/>
<line x1="350.3" y1="1481.4" x2="352.0" y2="1483.0" stroke="#218c9d"/>
<line x1="352.0" y1="1483.0" x2="353.7" y2="1481.6" stroke="#2289a0"/>
<line x1="353.7" y1="1481.6" x2="355.3" y2="1483.6" stroke="#2581a7"/>
<line x1="355.3" y1="1483.6" x2="357.0" y2="1482.5" stroke="#1f9a92"/>
<line x1="357.0" y1="1482.5" x2="358.7" y2="1482.2" stroke="#1fa986"/>
<line x1="358.7" y1="1482.2" x2="360.3" y2="1480.5" stroke="#1eb080"/>
<line x1="360.3" y1="1480.5" x2="362.0" y2="1481.0" stroke="#24b76a"/>
<line x1="362.0" y1="1481.0" x2="366.0" y2="1478.0" stroke="#2cbb4e"/>
<line x1="366.0" y1="1478.0" x2="370.0" y2="1474.0" stroke="#3fc031"/>
<line x1="370.0" y1="1474.0" x2="374.0" y2="1471.5" stroke="#56c31e"/>
<line x1="374.0" y1="1471.5" x2="377.0" y2="1469.7" stroke="#8dc020"/>
<line x1="377.0" y1="1469.7" x2="379.5" y2="1471.0" stroke="#d5ae1e"/>
<line x1="379.5" y1="1471.0" x2="382.5" y2="1474.0" stroke="#d8941e"/>
<line x1="382.5" y1="1474.0" x2="386.0" y2="1478.0" stroke="#a5c01f"/>
<line x1="386.0" y1="1478.0" x2="389.0" y2="1481.5" stroke="#45c229"/>
<line x1="389.0" y1="1481.5" x2="390.5" y2="1481.3" stroke="#28b95a"/>
<line x1="390.5" y1="1481.3" x2="392.0" y2="1483.5" stroke="#21b574"/>
<line x1="392.0" y1="1483.5" x2="393.7" y2="1481.8" stroke="#1fa688"/>
<line x1="393.7" y1="1481.8" x2="395.3" y2="1481.6" stroke="#20909a"/>
<line x1="395.3" y1="1481.6" x2="397.0" y2="1482.0" stroke="#20909a"/>
<line x1="397.0" y1="1482.0" x2="398.7" y2="1483.8" stroke="#209993"/>
<line x1="398.7" y1="1483.8" x2="400.3" y2="1482.0" stroke="#1f9a92"/>
<line x1="400.3" y1="1482.0" x2="402.0" y2="1483.0" stroke="#209695"/>
<line x1="402.0" y1="1483.0" x2="403.7" y2="1481.7" stroke="#228b9f"/>
<line x1="403.7" y1="1481.7" x2="405.3" y2="1483.5" stroke="#218d9c"/>
<line x1="405.3" y1="1483.5" x2="407.0" y2="1482.0" stroke="#1f9d90"/>
<line x1="407.0" y1="1482.0" x2="408.7" y2="1481.2" stroke="#1fa887"/>
<line x1="408.7" y1="1481.2" x2="410.3" y2="1482.1" stroke="#209795"/>
<line x1="410.3" y1="1482.1" x2="412.0" y2="1483.5" stroke="#218d9d"/>
<line x1="412.0" y1="1483.5" x2="413.7" y2="1483.9" stroke="#218c9e"/>
<line x1="413.7" y1="1483.9" x2="415.3" y2="1481.8" stroke="#2879af"/>
<line x1="415.3" y1="1481.8" x2="417.0" y2="1482.0" stroke="#2582a7"/>
<line x1="417.0" y1="1482.0" x2="418.3" y2="1481.4" stroke="#20909a"/>
<line x1="418.3" y1="1481.4" x2="419.7" y2="1482.5" stroke="#209199"/>
<line x1="419.7" y1="1482.5" x2="421.0" y2="1484.0" stroke="#1f9c91"/>
<line x1="421.0" y1="1484.0" x2="425.0" y2="1486.0" stroke="#26b863"/>
<line x1="425.0" y1="1486.0" x2="427.0" y2="1483.0" stroke="#2ab956"/>
<line x1="427.0" y1="1483.0" x2="428.7" y2="1482.3" stroke="#1fa986"/>
<line x1="428.7" y1="1482.3" x2="430.3" y2="1483.8" stroke="#1f9c91"/>
<line x1="430.3" y1="1483.8" x2="432.0" y2="1482.0" stroke="#1f9e8f"/>
<line x1="432.0" y1="1482.0" x2="433.3" y2="1481.9" stroke="#1fa986"/>
<line x1="433.3" y1="1481.9" x2="434.7" y2="1480.3" stroke="#1f9e8f"/>
<line x1="434.7" y1="1480.3" x2="436.0" y2="1481.0" stroke="#1fa18d"/>
<line x1="436.0" y1="1481.0" x2="438.3" y2="1483.0" stroke="#20b578"/>
<line x1="438.3" y1="1483.0" x2="438.8" y2="1487.2" stroke="#21b573"/>
<line x1="438.8" y1="1487.2" x2="439.2" y2="1491.5" stroke="#21b573"/>
<line x1="439.2" y1="1491.5" x2="439.5" y2="1488.3" stroke="#21b574"/>
<line x1="439.5" y1="1488.3" x2="439.9" y2="1485.2" stroke="#20b578"/>
<line x1="439.9" y1="1485.2" x2="440.2" y2="1482.0" stroke="#1fb47b"/>
<line x1="440.2" y1="1482.0" x2="442.1" y2="1482.3" stroke="#1fb47a"/>
<line x1="442.1" y1="1482.3" x2="444.0" y2="1480.0" stroke="#1fb47a"/>
<line x1="444.0" y1="1480.0" x2="445.3" y2="1479.5" stroke="#1fa38a"/>
<line x1="445.3" y1="1479.5" x2="446.7" y2="1481.4" stroke="#1fa688"/>
<line x1="446.7" y1="1481.4" x2="448.0" y2="1481.0" stroke="#1eb47d"/>
<line x1="448.0" y1="1481.0" x2="449.3" y2="1479.4" stroke="#1eb47d"/>
<line x1="449.3" y1="1479.4" x2="450.7" y2="1480.9" stroke="#1eb27f"/>
<line x1="450.7" y1="1480.9" x2="452.0" y2="1479.0" stroke="#1eaf81"/>
<line x1="452.0" y1="1479.0" x2="453.3" y2="1479.1" stroke="#1f9f8e"/>
<line x1="453.3" y1="1479.1" x2="454.7" y2="1478.2" stroke="#1f9f8e"/>
<line x1="454.7" y1="1478.2" x2="456.0" y2="1480.0" stroke="#1eab84"/>
<line x1="456.0" y1="1480.0" x2="458.5" y2="1479.0" stroke="#1eab84"/>
<line x1="458.5" y1="1479.0" x2="459.1" y2="1476.0" stroke="#20b576"/>
<line x1="459.1" y1="1476.0" x2="459.8" y2="1473.0" stroke="#24b769"/>
<line x1="459.8" y1="1473.0" x2="460.8" y2="1469.4" stroke="#27b85e"/>
<line x1="460.8" y1="1469.4" x2="462.4" y2="1469.8" stroke="#2bba51"/>
<line x1="462.4" y1="1469.8" x2="464.0" y2="1473.0" stroke="#37be3c"/>
<line x1="464.0" y1="1473.0" x2="466.5" y2="1477.5" stroke="#43c12b"/>
<line x1="466.5" y1="1477.5" x2="469.0" y2="1481.5" stroke="#3abf38"/>
<line x1="469.0" y1="1481.5" x2="470.5" y2="1481.4" stroke="#29b958"/>
<line x1="470.5" y1="1481.4" x2="472.0" y2="1483.0" stroke="#21b672"/>
<line x1="472.0" y1="1483.0" x2="473.3" y2="1482.7" stroke="#23b66d"/>
<line x1="473.3" y1="1482.7" x2="474.6" y2="1484.0" stroke="#2bba53"/>
<line x1="474.6" y1="1484.0" x2="475.0" y2="1487.0" stroke="#32bc44"/>
<line x1="475.0" y1="1487.0" x2="475.4" y2="1490.0" stroke="#39bf39"/>
<line x1="475.4" y1="1490.0" x2="475.9" y2="1486.5" stroke="#36be3e"/>
<line x1="475.9" y1="1486.5" x2="476.3" y2="1483.0" stroke="#2ab956"/>
<line x1="476.3" y1="1483.0" x2="478.1" y2="1482.3" stroke="#1eb080"/>
<line x1="478.1" y1="1482.3" x2="480.0" y2="1481.0" stroke="#1f9f8e"/>
<line x1="480.0" y1="1481.0" x2="481.3" y2="1480.6" stroke="#1fa08d"/>
<line x1="481.3" y1="1480.6" x2="482.7" y2="1481.0" stroke="#218e9b"/>
<line x1="482.7" y1="1481.0" x2="484.0" y2="1483.0" stroke="#218c9e"/>
<line x1="484.0" y1="1483.0" x2="485.5" y2="1483.2" stroke="#1f9992"/>
<line x1="485.5" y1="1483.2" x2="487.0" y2="1483.0" stroke="#209695"/>
<line x1="487.0" y1="1483.0" x2="489.5" y2="1478.0" stroke="#209596"/>
<line x1="489.5" y1="1478.0" x2="490.1" y2="1481.0" stroke="#209795"/>
<line x1="490.1" y1="1481.0" x2="490.6" y2="1484.0" stroke="#209397"/>
<line x1="490.6" y1="1484.0" x2="491.0" y2="1488.0" stroke="#209397"/>
<line x1="491.0" y1="1488.0" x2="491.4" y2="1492.0" stroke="#209795"/>
<line x1="491.4" y1="1492.0" x2="491.6" y2="1489.0" stroke="#209893"/>
<line x1="491.6" y1="1489.0" x2="491.8" y2="1486.0" stroke="#209893"/>
<line x1="491.8" y1="1486.0" x2="492.0" y2="1483.0" stroke="#209893"/>
<line x1="492.0" y1="1483.0" x2="492.2" y2="1480.0" stroke="#209893"/>
<line x1="492.2" y1="1480.0" x2="492.4" y2="1477.0" stroke="#1f9e8f"/>
<line x1="492.4" y1="1477.0" x2="492.7" y2="1474.0" stroke="#1fa986"/>
<line x1="492.7" y1="1474.0" x2="492.9" y2="1471.0" stroke="#1eb47c"/>
<line x1="492.9" y1="1471.0" x2="493.2" y2="1468.0" stroke="#23b66b"/>
<line x1="493.2" y1="1468.0" x2="493.5" y2="1465.0" stroke="#27b85e"/>
<line x1="493.5" y1="1465.0" x2="493.8" y2="1462.0" stroke="#2aba53"/>
<line x1="493.8" y1="1462.0" x2="494.0" y2="1459.0" stroke="#2ebb49"/>
<line x1="494.0" y1="1459.0" x2="494.3" y2="1456.0" stroke="#34bd41"/>
<line x1="494.3" y1="1456.0" x2="495.0" y2="1452.8" stroke="#39bf39"/>
<line x1="495.0" y1="1452.8" x2="495.6" y2="1449.5" stroke="#3ec033"/>
<line x1="495.6" y1="1449.5" x2="497.0" y2="1448.5" stroke="#43c12b"/>
<line x1="497.0" y1="1448.5" x2="498.6" y2="1449.5" stroke="#46c227"/>
<line x1="498.6" y1="1449.5" x2="500.2" y2="1448.5" stroke="#56c31e"/>
<line x1="500.2" y1="1448.5" x2="501.6" y2="1453.0" stroke="#84c120"/>
<line x1="501.6" y1="1453.0" x2="502.6" y2="1457.0" stroke="#a9c01f"/>
<line x1="502.6" y1="1457.0" x2="503.5" y2="1461.0" stroke="#c4c01e"/>
<line x1="503.5" y1="1461.0" x2="504.5" y2="1465.0" stroke="#cfc01e"/>
<line x1="504.5" y1="1465.0" x2="505.5" y2="1469.0" stroke="#c8c01e"/>
<line x1="505.5" y1="1469.0" x2="506.5" y2="1472.2" stroke="#b6c01f"/>
<line x1="506.5" y1="1472.2" x2="507.5" y2="1475.5" stroke="#9bc020"/>
<line x1="507.5" y1="1475.5" x2="509.5" y2="1480.0" stroke="#6dc21f"/>
<line x1="509.5" y1="1480.0" x2="511.0" y2="1483.0" stroke="#2ebb49"/>
<line x1="511.0" y1="1483.0" x2="511.4" y2="1487.0" stroke="#1eb27e"/>
<line x1="511.4" y1="1487.0" x2="511.8" y2="1491.0" stroke="#1eaf81"/>
<line x1="511.8" y1="1491.0" x2="512.1" y2="1488.0" stroke="#1ead83"/>
<line x1="512.1" y1="1488.0" x2="512.5" y2="1485.0" stroke="#1ead83"/>
<line x1="512.5" y1="1485.0" x2="512.8" y2="1482.0" stroke="#1ead83"/>
<line x1="512.8" y1="1482.0" x2="514.2" y2="1482.0" stroke="#1f9e8e"/>
<line x1="514.2" y1="1482.0" x2="515.6" y2="1482.7" stroke="#218c9d"/>
<line x1="515.6" y1="1482.7" x2="517.0" y2="1481.0" stroke="#209596"/>
<line x1="517.0" y1="1481.0" x2="518.7" y2="1480.0" stroke="#209497"/>
<line x1="518.7" y1="1480.0" x2="520.3" y2="1481.8" stroke="#267fa9"/>
<line x1="520.3" y1="1481.8" x2="522.0" y2="1482.5" stroke="#2388a1"/>
<line x1="522.0" y1="1482.5" x2="523.7" y2="1481.3" stroke="#20909a"/>
<line x1="523.7" y1="1481.3" x2="525.3" y2="1482.4" stroke="#2483a6"/>
<line x1="525.3" y1="1482.4" x2="527.0" y2="1482.0" stroke="#20909a"/>
<line x1="527.0" y1="1482.0" x2="528.7" y2="1481.9" stroke="#1fa589"/>
<line x1="528.7" y1="1481.9" x2="530.3" y2="1484.2" stroke="#1f9f8e"/>
<line x1="530.3" y1="1484.2" x2="532.0" y2="1483.0" stroke="#209794"/>
<line x1="532.0" y1="1483.0" x2="533.7" y2="1483.3" stroke="#209497"/>
<line x1="533.7" y1="1483.3" x2="535.3" y2="1481.2" stroke="#2581a7"/>
<line x1="535.3" y1="1481.2" x2="537.0" y2="1482.0" stroke="#2386a3"/>
<line x1="537.0" y1="1482.0" x2="538.3" y2="1481.0" stroke="#1fa787"/>
<line x1="538.3" y1="1481.0" x2="539.7" y2="1483.6" stroke="#24b768"/>
<line x1="539.7" y1="1483.6" x2="541.0" y2="1483.5" stroke="#2cba50"/>
<line x1="541.0" y1="1483.5" x2="542.3" y2="1481.6" stroke="#28b95b"/>
<line x1="542.3" y1="1481.6" x2="543.7" y2="1482.8" stroke="#20b576"/>
<line x1="543.7" y1="1482.8" x2="545.0" y2="1482.5" stroke="#1fab84"/>
<line x1="545.0" y1="1482.5" x2="546.7" y2="1481.8" stroke="#1fa887"/>
<line x1="546.7" y1="1481.8" x2="548.3" y2="1480.8" stroke="#1f9f8e"/>
<line x1="548.3" y1="1480.8" x2="550.0" y2="1482.0" stroke="#209496"/>
<line x1="550.0" y1="1482.0" x2="551.7" y2="1482.6" stroke="#1f9c90"/>
<line x1="551.7" y1="1482.6" x2="553.3" y2="1482.4" stroke="#1f9b91"/>
<line x1="553.3" y1="1482.4" x2="555.0" y2="1481.5" stroke="#209794"/>
<line x1="555.0" y1="1481.5" x2="556.3" y2="1481.9" stroke="#1f9f8e"/>
<line x1="556.3" y1="1481.9" x2="557.7" y2="1480.0" stroke="#1fa08d"/>
<line x1="557.7" y1="1480.0" x2="559.0" y2="1480.0" stroke="#1f9f8e"/>
<line x1="559.0" y1="1480.0" x2="563.0" y2="1477.0" stroke="#1eaf81"/>
<line x1="563.0" y1="1477.0" x2="566.0" y2="1473.0" stroke="#26b863"/>
<line x1="566.0" y1="1473.0" x2="569.0" y2="1471.0" stroke="#2ebb49"/>
<line x1="569.0" y1="1471.0" x2="572.0" y2="1472.5" stroke="#39be3a"/>
<line x1="572.0" y1="1472.5" x2="575.0" y2="1475.5" stroke="#42c12d"/>
<line x1="575.0" y1="1475.5" x2="577.6" y2="1477.8" stroke="#49c322"/>
<line x1="577.6" y1="1477.8" x2="579.7" y2="1480.0" stroke="#45c229"/>
<line x1="579.7" y1="1480.0" x2="580.1" y2="1483.0" stroke="#32bc44"/>
<line x1="580.1" y1="1483.0" x2="580.5" y2="1486.0" stroke="#24b769"/>
<line x1="580.5" y1="1486.0" x2="580.7" y2="1489.4" stroke="#20b576"/>
<line x1="580.7" y1="1489.4" x2="580.9" y2="1492.8" stroke="#24b769"/>
<line x1="580.9" y1="1492.8" x2="581.0" y2="1496.1" stroke="#28b95c"/>
<line x1="581.0" y1="1496.1" x2="581.2" y2="1499.5" stroke="#2cba4f"/>
<line x1="581.2" y1="1499.5" x2="582.6" y2="1500.5" stroke="#37be3c"/>
<line x1="582.6" y1="1500.5" x2="584.0" y2="1499.5" stroke="#40c12f"/>
<line x1="584.0" y1="1499.5" x2="584.2" y2="1496.1" stroke="#3cbf35"/>
<line x1="584.2" y1="1496.1" x2="584.4" y2="1492.8" stroke="#34bd41"/>
<line x1="584.4" y1="1492.8" x2="584.6" y2="1489.4" stroke="#2cbb4d"/>
<line x1="584.6" y1="1489.4" x2="584.8" y2="1486.0" stroke="#28b95c"/>
<line x1="584.8" y1="1486.0" x2="585.2" y2="1482.8" stroke="#25b767"/>
<line x1="585.2" y1="1482.8" x2="585.6" y2="1479.5" stroke="#22b66f"/>
<line x1="585.6" y1="1479.5" x2="587.3" y2="1480.8" stroke="#22b670"/>
<line x1="587.3" y1="1480.8" x2="589.0" y2="1479.5" stroke="#20b575"/>
<line x1="589.0" y1="1479.5" x2="590.3" y2="1479.1" stroke="#1fb47b"/>
<line x1="590.3" y1="1479.1" x2="591.7" y2="1480.3" stroke="#1eb080"/>
<line x1="591.7" y1="1480.3" x2="593.0" y2="1479.0" stroke="#1eaf81"/>
<line x1="593.0" y1="1479.0" x2="594.8" y2="1479.1" stroke="#1faa85"/>
<line x1="594.8" y1="1479.1" x2="596.5" y2="1478.5" stroke="#1faa85"/>
<line x1="596.5" y1="1478.5" x2="599.5" y2="1476.0" stroke="#1eb47d"/>
<line x1="599.5" y1="1476.0" x2="602.5" y2="1471.0" stroke="#1eb180"/>
<line x1="602.5" y1="1471.0" x2="603.8" y2="1468.0" stroke="#1faa85"/>
<line x1="603.8" y1="1468.0" x2="605.0" y2="1465.0" stroke="#1fa589"/>
<line x1="605.0" y1="1465.0" x2="605.6" y2="1461.5" stroke="#1f9d90"/>
<line x1="605.6" y1="1461.5" x2="606.2" y2="1458.0" stroke="#20919a"/>
<line x1="606.2" y1="1458.0" x2="606.3" y2="1454.7" stroke="#228a9f"/>
<line x1="606.3" y1="1454.7" x2="606.5" y2="1451.3" stroke="#2388a1"/>
<line x1="606.5" y1="1451.3" x2="606.6" y2="1448.0" stroke="#2386a3"/>
<line x1="606.6" y1="1448.0" x2="606.8" y2="1444.5" stroke="#2387a2"/>
<line x1="606.8" y1="1444.5" x2="606.9" y2="1441.0" stroke="#218c9e"/>
<line x1="606.9" y1="1441.0" x2="607.1" y2="1437.5" stroke="#20919a"/>
<line x1="607.1" y1="1437.5" x2="607.2" y2="1434.0" stroke="#209695"/>
<line x1="607.2" y1="1434.0" x2="607.3" y2="1431.0" stroke="#1f9993"/>
<line x1="607.3" y1="1431.0" x2="607.5" y2="1428.0" stroke="#1f9b91"/>
<line x1="607.5" y1="1428.0" x2="607.6" y2="1425.0" stroke="#1f9d90"/>
<line x1="607.6" y1="1425.0" x2="607.7" y2="1422.0" stroke="#1f9e8e"/>
<line x1="607.7" y1="1422.0" x2="607.9" y2="1419.0" stroke="#1fa08d"/>
<line x1="607.9" y1="1419.0" x2="608.0" y2="1416.0" stroke="#1fa28c"/>
<line x1="608.0" y1="1416.0" x2="608.1" y2="1412.8" stroke="#1fa48a"/>
<line x1="608.1" y1="1412.8" x2="608.3" y2="1409.7" stroke="#1fa589"/>
<line x1="608.3" y1="1409.7" x2="608.4" y2="1406.5" stroke="#1fa787"/>
<line x1="608.4" y1="1406.5" x2="608.5" y2="1403.3" stroke="#1fa986"/>
<line x1="608.5" y1="1403.3" x2="608.7" y2="1400.2" stroke="#1faa85"/>
<line x1="608.7" y1="1400.2" x2="608.8" y2="1397.0" stroke="#1eac83"/>
<line x1="608.8" y1="1397.0" x2="609.0" y2="1394.0" stroke="#1eae82"/>
<line x1="609.0" y1="1394.0" x2="609.1" y2="1391.0" stroke="#1eaf81"/>
<line x1="609.1" y1="1391.0" x2="609.3" y2="1388.0" stroke="#1eb180"/>
<line x1="609.3" y1="1388.0" x2="609.4" y2="1385.0" stroke="#1eb27f"/>
<line x1="609.4" y1="1385.0" x2="609.6" y2="1382.0" stroke="#1eb37e"/>
<line x1="609.6" y1="1382.0" x2="609.9" y2="1378.7" stroke="#1eb47d"/>
<line x1="609.9" y1="1378.7" x2="610.1" y2="1375.3" stroke="#1eb47d"/>
<line x1="610.1" y1="1375.3" x2="610.4" y2="1372.0" stroke="#1eb47d"/>
<line x1="610.4" y1="1372.0" x2="611.5" y2="1368.3" stroke="#1fb47b"/>
<line x1="611.5" y1="1368.3" x2="612.5" y2="1364.7" stroke="#20b578"/>
<line x1="612.5" y1="1364.7" x2="613.6" y2="1361.0" stroke="#21b574"/>
<line x1="613.6" y1="1361.0" x2="613.7" y2="1357.8" stroke="#21b573"/>
<line x1="613.7" y1="1357.8" x2="613.9" y2="1354.7" stroke="#21b574"/>
<line x1="613.9" y1="1354.7" x2="614.0" y2="1351.5" stroke="#20b575"/>
<line x1="614.0" y1="1351.5" x2="614.1" y2="1348.3" stroke="#20b576"/>
<line x1="614.1" y1="1348.3" x2="614.3" y2="1345.2" stroke="#20b576"/>
<line x1="614.3" y1="1345.2" x2="614.4" y2="1342.0" stroke="#20b577"/>
<line x1="614.4" y1="1342.0" x2="614.4" y2="1338.9" stroke="#20b577"/>
<line x1="614.4" y1="1338.9" x2="614.5" y2="1335.8" stroke="#20b575"/>
<line x1="614.5" y1="1335.8" x2="614.5" y2="1332.6" stroke="#21b574"/>
<line x1="614.5" y1="1332.6" x2="614.6" y2="1329.5" stroke="#21b672"/>
<line x1="614.6" y1="1329.5" x2="614.6" y2="1326.4" stroke="#22b670"/>
<line x1="614.6" y1="1326.4" x2="614.7" y2="1323.2" stroke="#22b66f"/>
<line x1="614.7" y1="1323.2" x2="614.8" y2="1320.1" stroke="#23b66d"/>
<line x1="614.8" y1="1320.1" x2="614.8" y2="1317.0" stroke="#23b66c"/>
<line x1="614.8" y1="1317.0" x2="614.9" y2="1313.9" stroke="#24b76a"/>
<line x1="614.9" y1="1313.9" x2="614.9" y2="1310.8" stroke="#24b768"/>
<line x1="614.9" y1="1310.8" x2="615.0" y2="1307.6" stroke="#25b767"/>
<line x1="615.0" y1="1307.6" x2="615.0" y2="1304.5" stroke="#25b765"/>
<line x1="615.0" y1="1304.5" x2="615.1" y2="1301.4" stroke="#26b863"/>
<line x1="615.1" y1="1301.4" x2="615.1" y2="1298.2" stroke="#26b862"/>
<line x1="615.1" y1="1298.2" x2="615.2" y2="1295.1" stroke="#27b860"/>
<line x1="615.2" y1="1295.1" x2="615.2" y2="1292.0" stroke="#27b85f"/>
<line x1="615.2" y1="1292.0" x2="615.2" y2="1288.9" stroke="#28b95c"/>
<line x1="615.2" y1="1288.9" x2="615.3" y2="1285.8" stroke="#29b95a"/>
<line x1="615.3" y1="1285.8" x2="615.4" y2="1282.6" stroke="#29b957"/>
<line x1="615.4" y1="1282.6" x2="615.4" y2="1279.5" stroke="#2aba55"/>
<line x1="615.4" y1="1279.5" x2="615.5" y2="1276.4" stroke="#2bba52"/>
<line x1="615.5" y1="1276.4" x2="615.5" y2="1273.2" stroke="#2cba4f"/>
<line x1="615.5" y1="1273.2" x2="615.6" y2="1270.1" stroke="#2cbb4d"/>
<line x1="615.6" y1="1270.1" x2="615.6" y2="1267.0" stroke="#2dbb4a"/>
<line x1="615.6" y1="1267.0" x2="615.6" y2="1263.9" stroke="#2fbc48"/>
<line x1="615.6" y1="1263.9" x2="615.7" y2="1260.8" stroke="#30bc46"/>
<line x1="615.7" y1="1260.8" x2="615.8" y2="1257.6" stroke="#32bc44"/>
<line x1="615.8" y1="1257.6" x2="615.8" y2="1254.5" stroke="#33bd42"/>
<line x1="615.8" y1="1254.5" x2="615.9" y2="1251.4" stroke="#35bd40"/>
<line x1="615.9" y1="1251.4" x2="615.9" y2="1248.2" stroke="#36be3d"/>
<line x1="615.9" y1="1248.2" x2="616.0" y2="1245.1" stroke="#38be3b"/>
<line x1="616.0" y1="1245.1" x2="616.0" y2="1242.0" stroke="#39bf39"/>
<line x1="616.0" y1="1242.0" x2="616.1" y2="1238.5" stroke="#3cbf35"/>
<line x1="616.1" y1="1238.5" x2="616.2" y2="1235.0" stroke="#3fc030"/>
<line x1="616.2" y1="1235.0" x2="616.4" y2="1231.4" stroke="#43c12b"/>
<line x1="616.4" y1="1231.4" x2="616.5" y2="1227.9" stroke="#47c226"/>
<line x1="616.5" y1="1227.9" x2="616.6" y2="1224.4" stroke="#4ac321"/>
<line x1="616.6" y1="1224.4" x2="617.4" y2="1224.4" stroke="#53c41e"/>
<line x1="617.4" y1="1224.4" x2="617.4" y2="1227.4" stroke="#5ac31e"/>
<line x1="617.4" y1="1227.4" x2="617.5" y2="1230.5" stroke="#5bc31e"/>
<line x1="617.5" y1="1230.5" x2="617.5" y2="1233.5" stroke="#5dc31e"/>
<line x1="617.5" y1="1233.5" x2="617.6" y2="1236.5" stroke="#5ec31f"/>
<line x1="617.6" y1="1236.5" x2="617.6" y2="1239.6" stroke="#5fc31f"/>
<line x1="617.6" y1="1239.6" x2="617.7" y2="1242.6" stroke="#61c31f"/>
<line x1="617.7" y1="1242.6" x2="617.7" y2="1245.6" stroke="#62c31f"/>
<line x1="617.7" y1="1245.6" x2="617.7" y2="1248.7" stroke="#63c31f"/>
<line x1="617.7" y1="1248.7" x2="617.8" y2="1251.7" stroke="#65c31f"/>
<line x1="617.8" y1="1251.7" x2="617.8" y2="1254.7" stroke="#66c21f"/>
<line x1="617.8" y1="1254.7" x2="617.9" y2="1257.7" stroke="#68c21f"/>
<line x1="617.9" y1="1257.7" x2="617.9" y2="1260.8" stroke="#69c21f"/>
<line x1="617.9" y1="1260.8" x2="617.9" y2="1263.8" stroke="#6ac21f"/>
<line x1="617.9" y1="1263.8" x2="618.0" y2="1266.8" stroke="#6cc21f"/>
<line x1="618.0" y1="1266.8" x2="618.0" y2="1269.9" stroke="#6dc21f"/>
<line x1="618.0" y1="1269.9" x2="618.1" y2="1272.9" stroke="#6ec21f"/>
<line x1="618.1" y1="1272.9" x2="618.1" y2="1275.9" stroke="#70c21f"/>
<line x1="618.1" y1="1275.9" x2="618.2" y2="1279.0" stroke="#71c21f"/>
<line x1="618.2" y1="1279.0" x2="618.2" y2="1282.0" stroke="#73c21f"/>
<line x1="618.2" y1="1282.0" x2="618.2" y2="1285.0" stroke="#74c21f"/>
<line x1="618.2" y1="1285.0" x2="618.3" y2="1288.0" stroke="#76c21f"/>
<line x1="618.3" y1="1288.0" x2="618.4" y2="1291.0" stroke="#78c11f"/>
<line x1="618.4" y1="1291.0" x2="618.4" y2="1294.0" stroke="#7ac11f"/>
<line x1="618.4" y1="1294.0" x2="618.5" y2="1297.0" stroke="#7cc11f"/>
<line x1="618.5" y1="1297.0" x2="618.5" y2="1300.0" stroke="#7ec11f"/>
<line x1="618.5" y1="1300.0" x2="618.6" y2="1303.0" stroke="#80c120"/>
<line x1="618.6" y1="1303.0" x2="618.6" y2="1306.0" stroke="#82c120"/>
<line x1="618.6" y1="1306.0" x2="618.7" y2="1309.0" stroke="#84c120"/>
<line x1="618.7" y1="1309.0" x2="618.7" y2="1312.0" stroke="#86c120"/>
<line x1="618.7" y1="1312.0" x2="618.8" y2="1315.0" stroke="#88c020"/>
<line x1="618.8" y1="1315.0" x2="618.8" y2="1318.0" stroke="#8ac020"/>
<line x1="618.8" y1="1318.0" x2="618.9" y2="1321.0" stroke="#8cc020"/>
<line x1="618.9" y1="1321.0" x2="618.9" y2="1324.0" stroke="#8ec020"/>
<line x1="618.9" y1="1324.0" x2="619.0" y2="1327.0" stroke="#90c020"/>
<line x1="619.0" y1="1327.0" x2="619.0" y2="1330.0" stroke="#92c020"/>
<line x1="619.0" y1="1330.0" x2="619.1" y2="1333.0" stroke="#94c020"/>
<line x1="619.1" y1="1333.0" x2="619.1" y2="1336.0" stroke="#96c020"/>
<line x1="619.1" y1="1336.0" x2="619.2" y2="1339.0" stroke="#98c020"/>
<line x1="619.2" y1="1339.0" x2="619.2" y2="1342.0" stroke="#9ac020"/>
<line x1="619.2" y1="1342.0" x2="619.3" y2="1345.1" stroke="#9cc020"/>
<line x1="619.3" y1="1345.1" x2="619.4" y2="1348.2" stroke="#9fc020"/>
<line x1="619.4" y1="1348.2" x2="619.5" y2="1351.2" stroke="#a2c01f"/>
<line x1="619.5" y1="1351.2" x2="619.5" y2="1354.3" stroke="#a4c01f"/>
<line x1="619.5" y1="1354.3" x2="619.6" y2="1357.4" stroke="#a7c01f"/>
<line x1="619.6" y1="1357.4" x2="619.7" y2="1360.5" stroke="#aac01f"/>
<line x1="619.7" y1="1360.5" x2="619.8" y2="1363.5" stroke="#acc01f"/>
<line x1="619.8" y1="1363.5" x2="619.9" y2="1366.6" stroke="#afc01f"/>
<line x1="619.9" y1="1366.6" x2="620.0" y2="1369.7" stroke="#b1c01f"/>
<line x1="620.0" y1="1369.7" x2="620.0" y2="1372.8" stroke="#b4c01f"/>
<line x1="620.0" y1="1372.8" x2="620.1" y2="1375.8" stroke="#b7c01f"/>
<line x1="620.1" y1="1375.8" x2="620.2" y2="1378.9" stroke="#b9c01f"/>
<line x1="620.2" y1="1378.9" x2="620.3" y2="1382.0" stroke="#bcc01f"/>
<line x1="620.3" y1="1382.0" x2="620.4" y2="1385.0" stroke="#bec01f"/>
<line x1="620.4" y1="1385.0" x2="620.6" y2="1388.0" stroke="#c0c01f"/>
<line x1="620.6" y1="1388.0" x2="620.7" y2="1391.0" stroke="#c3c01e"/>
<line x1="620.7" y1="1391.0" x2="620.8" y2="1394.0" stroke="#c5c01e"/>
<line x1="620.8" y1="1394.0" x2="621.0" y2="1397.0" stroke="#c7c01e"/>
<line x1="621.0" y1="1397.0" x2="621.1" y2="1400.0" stroke="#c9c01e"/>
<line x1="621.1" y1="1400.0" x2="621.2" y2="1403.0" stroke="#cbc01e"/>
<line x1="621.2" y1="1403.0" x2="621.3" y2="1406.0" stroke="#cdc01e"/>
<line x1="621.3" y1="1406.0" x2="621.5" y2="1409.0" stroke="#cfc01e"/>
<line x1="621.5" y1="1409.0" x2="621.6" y2="1412.0" stroke="#d1c01e"/>
<line x1="621.6" y1="1412.0" x2="621.8" y2="1415.0" stroke="#d0c01e"/>
<line x1="621.8" y1="1415.0" x2="622.1" y2="1418.0" stroke="#ccc01e"/>
<line x1="622.1" y1="1418.0" x2="622.3" y2="1421.0" stroke="#c7c01e"/>
<line x1="622.3" y1="1421.0" x2="622.5" y2="1424.0" stroke="#c3c01e"/>
<line x1="622.5" y1="1424.0" x2="622.8" y2="1427.0" stroke="#bfc01f"/>
<line x1="622.8" y1="1427.0" x2="623.0" y2="1430.0" stroke="#bac01f"/>
<line x1="623.0" y1="1430.0" x2="623.3" y2="1433.0" stroke="#b6c01f"/>
<line x1="623.3" y1="1433.0" x2="623.5" y2="1436.0" stroke="#b2c01f"/>
<line x1="623.5" y1="1436.0" x2="624.2" y2="1439.5" stroke="#abc01f"/>
<line x1="624.2" y1="1439.5" x2="624.9" y2="1443.0" stroke="#a3c01f"/>
<line x1="624.9" y1="1443.0" x2="625.5" y2="1446.5" stroke="#9ac020"/>
<line x1="625.5" y1="1446.5" x2="626.2" y2="1450.0" stroke="#92c020"/>
<line x1="626.2" y1="1450.0" x2="627.0" y2="1455.0" stroke="#6dc21f"/>
<line x1="627.0" y1="1455.0" x2="627.8" y2="1458.7" stroke="#4cc41e"/>
<line x1="627.8" y1="1458.7" x2="628.5" y2="1462.3" stroke="#4cc41e"/>
<line x1="628.5" y1="1462.3" x2="629.3" y2="1466.0" stroke="#4cc41e"/>
<line x1="629.3" y1="1466.0" x2="630.0" y2="1469.0" stroke="#4ac321"/>
<line x1="630.0" y1="1469.0" x2="630.8" y2="1472.0" stroke="#46c227"/>
<line x1="630.8" y1="1472.0" x2="631.5" y2="1475.0" stroke="#42c12c"/>
<line x1="631.5" y1="1475.0" x2="633.5" y2="1478.5" stroke="#37be3c"/>
<line x1="633.5" y1="1478.5" x2="635.0" y2="1478.8" stroke="#2cba4f"/>
<line x1="635.0" y1="1478.8" x2="636.5" y2="1477.2" stroke="#2aba53"/>
<line x1="636.5" y1="1477.2" x2="638.0" y2="1478.5" stroke="#2cbb4e"/>
<line x1="638.0" y1="1478.5" x2="639.7" y2="1480.2" stroke="#2ebb49"/>
<line x1="639.7" y1="1480.2" x2="641.3" y2="1479.6" stroke="#28b95b"/>
<line x1="641.3" y1="1479.6" x2="643.0" y2="1479.0" stroke="#27b861"/>
<line x1="643.0" y1="1479.0" x2="644.3" y2="1480.1" stroke="#28b85d"/>
<line x1="644.3" y1="1480.1" x2="645.7" y2="1479.5" stroke="#27b85f"/>
<line x1="645.7" y1="1479.5" x2="647.0" y2="1480.0" stroke="#28b95d"/>
<line x1="647.0" y1="1480.0" x2="648.5" y2="1479.7" stroke="#21b574"/>
<line x1="648.5" y1="1479.7" x2="650.0" y2="1482.0" stroke="#1fa48a"/>
<line x1="650.0" y1="1482.0" x2="651.5" y2="1486.5" stroke="#209596"/>
<line x1="651.5" y1="1486.5" x2="653.5" y2="1482.0" stroke="#218e9c"/>
<line x1="653.5" y1="1482.0" x2="656.0" y2="1483.0" stroke="#2388a1"/>
<line x1="656.0" y1="1483.0" x2="657.3" y2="1482.5" stroke="#2484a5"/>
<line x1="657.3" y1="1482.5" x2="658.6" y2="1485.0" stroke="#228a9f"/>
<line x1="658.6" y1="1485.0" x2="659.2" y2="1488.0" stroke="#1fa38b"/>
<line x1="659.2" y1="1488.0" x2="659.8" y2="1491.0" stroke="#26b863"/>
<line x1="659.8" y1="1491.0" x2="660.4" y2="1488.0" stroke="#26b863"/>
<line x1="660.4" y1="1488.0" x2="661.0" y2="1485.0" stroke="#1fa38b"/>
<line x1="661.0" y1="1485.0" x2="663.5" y2="1483.5" stroke="#228b9e"/>
<line x1="663.5" y1="1483.5" x2="666.0" y2="1481.0" stroke="#218e9c"/>
<line x1="666.0" y1="1481.0" x2="668.5" y2="1478.0" stroke="#1fa38b"/>
<line x1="668.5" y1="1478.0" x2="671.0" y2="1477.5" stroke="#1eb180"/>
<line x1="671.0" y1="1477.5" x2="673.2" y2="1476.5" stroke="#1eb47d"/>
<line x1="673.2" y1="1476.5" x2="674.6" y2="1473.0" stroke="#1eb47d"/>
<line x1="674.6" y1="1473.0" x2="674.8" y2="1469.3" stroke="#1eb47d"/>
<line x1="674.8" y1="1469.3" x2="675.1" y2="1465.7" stroke="#1eb47d"/>
<line x1="675.1" y1="1465.7" x2="675.3" y2="1462.0" stroke="#1eb47d"/>
<line x1="675.3" y1="1462.0" x2="675.4" y2="1458.7" stroke="#1eb47c"/>
<line x1="675.4" y1="1458.7" x2="675.5" y2="1455.3" stroke="#1fb47a"/>
<line x1="675.5" y1="1455.3" x2="675.6" y2="1452.0" stroke="#1fb579"/>
<line x1="675.6" y1="1452.0" x2="675.8" y2="1448.7" stroke="#20b577"/>
<line x1="675.8" y1="1448.7" x2="675.9" y2="1445.3" stroke="#20b575"/>
<line x1="675.9" y1="1445.3" x2="676.0" y2="1442.0" stroke="#21b573"/>
<line x1="676.0" y1="1442.0" x2="676.1" y2="1438.7" stroke="#22b671"/>
<line x1="676.1" y1="1438.7" x2="676.3" y2="1435.3" stroke="#23b66d"/>
<line x1="676.3" y1="1435.3" x2="676.4" y2="1432.0" stroke="#24b76a"/>
<line x1="676.4" y1="1432.0" x2="676.5" y2="1428.7" stroke="#25b766"/>
<line x1="676.5" y1="1428.7" x2="676.7" y2="1425.3" stroke="#26b863"/>
<line x1="676.7" y1="1425.3" x2="676.8" y2="1422.0" stroke="#27b85f"/>
<line x1="676.8" y1="1422.0" x2="676.9" y2="1418.7" stroke="#28b95c"/>
<line x1="676.9" y1="1418.7" x2="677.1" y2="1415.3" stroke="#29b959"/>
<line x1="677.1" y1="1415.3" x2="677.2" y2="1412.0" stroke="#2aba55"/>
<line x1="677.2" y1="1412.0" x2="677.3" y2="1408.7" stroke="#2bba52"/>
<line x1="677.3" y1="1408.7" x2="677.5" y2="1405.3" stroke="#2cbb4e"/>
<line x1="677.5" y1="1405.3" x2="677.6" y2="1402.0" stroke="#2dbb4b"/>
<line x1="677.6" y1="1402.0" x2="677.7" y2="1399.0" stroke="#2fbc48"/>
<line x1="677.7" y1="1399.0" x2="677.8" y2="1396.0" stroke="#31bc45"/>
<line x1="677.8" y1="1396.0" x2="678.0" y2="1393.0" stroke="#33bd42"/>
<line x1="678.0" y1="1393.0" x2="678.1" y2="1390.0" stroke="#35bd3f"/>
<line x1="678.1" y1="1390.0" x2="678.2" y2="1387.0" stroke="#37be3c"/>
<line x1="678.2" y1="1387.0" x2="678.3" y2="1384.0" stroke="#39bf39"/>
<line x1="678.3" y1="1384.0" x2="678.6" y2="1380.7" stroke="#3cbf35"/>
<line x1="678.6" y1="1380.7" x2="678.8" y2="1377.3" stroke="#40c12f"/>
<line x1="678.8" y1="1377.3" x2="679.1" y2="1374.0" stroke="#44c22a"/>
<line x1="679.1" y1="1374.0" x2="680.0" y2="1371.0" stroke="#4cc41e"/>
<line x1="680.0" y1="1371.0" x2="681.2" y2="1372.0" stroke="#84c120"/>
<line x1="681.2" y1="1372.0" x2="681.7" y2="1375.0" stroke="#c9c01e"/>
<line x1="681.7" y1="1375.0" x2="682.2" y2="1378.0" stroke="#d9921e"/>
<line x1="682.2" y1="1378.0" x2="682.4" y2="1381.2" stroke="#dc721e"/>
<line x1="682.4" y1="1381.2" x2="682.7" y2="1384.4" stroke="#dc691e"/>
<line x1="682.7" y1="1384.4" x2="682.9" y2="1387.6" stroke="#dc601e"/>
<line x1="682.9" y1="1387.6" x2="683.2" y2="1390.8" stroke="#dc571e"/>
<line x1="683.2" y1="1390.8" x2="683.4" y2="1394.0" stroke="#dc4d1e"/>
<line x1="683.4" y1="1394.0" x2="683.6" y2="1397.1" stroke="#dc4c1e"/>
<line x1="683.6" y1="1397.1" x2="683.8" y2="1400.3" stroke="#dc531e"/>
<line x1="683.8" y1="1400.3" x2="684.0" y2="1403.4" stroke="#dc591e"/>
<line x1="684.0" y1="1403.4" x2="684.2" y2="1406.6" stroke="#dc601e"/>
<line x1="684.2" y1="1406.6" x2="684.4" y2="1409.7" stroke="#dc661e"/>
<line x1="684.4" y1="1409.7" x2="684.6" y2="1412.9" stroke="#dc6d1e"/>
<line x1="684.6" y1="1412.9" x2="684.8" y2="1416.0" stroke="#dc741e"/>
<line x1="684.8" y1="1416.0" x2="685.0" y2="1419.0" stroke="#dc7b1e"/>
<line x1="685.0" y1="1419.0" x2="685.3" y2="1422.0" stroke="#db821e"/>
<line x1="685.3" y1="1422.0" x2="685.5" y2="1425.0" stroke="#da891e"/>
<line x1="685.5" y1="1425.0" x2="685.7" y2="1428.0" stroke="#d9911e"/>
<line x1="685.7" y1="1428.0" x2="685.9" y2="1431.0" stroke="#d8981e"/>
<line x1="685.9" y1="1431.0" x2="686.2" y2="1434.0" stroke="#d79f1e"/>
<line x1="686.2" y1="1434.0" x2="686.4" y2="1437.0" stroke="#d6a61e"/>
<line x1="686.4" y1="1437.0" x2="686.7" y2="1440.0" stroke="#d5ad1e"/>
<line x1="686.7" y1="1440.0" x2="687.0" y2="1443.0" stroke="#d4b31e"/>
<line x1="687.0" y1="1443.0" x2="687.3" y2="1446.0" stroke="#d3b91e"/>
<line x1="687.3" y1="1446.0" x2="687.6" y2="1449.0" stroke="#d2bf1e"/>
<line x1="687.6" y1="1449.0" x2="687.9" y2="1452.0" stroke="#cdc01e"/>
<line x1="687.9" y1="1452.0" x2="688.2" y2="1455.0" stroke="#c7c01e"/>
<line x1="688.2" y1="1455.0" x2="688.7" y2="1458.5" stroke="#c1c01f"/>
<line x1="688.7" y1="1458.5" x2="689.2" y2="1462.0" stroke="#bac01f"/>
<line x1="689.2" y1="1462.0" x2="689.7" y2="1465.5" stroke="#b3c01f"/>
<line x1="689.7" y1="1465.5" x2="690.2" y2="1469.0" stroke="#acc01f"/>
<line x1="690.2" y1="1469.0" x2="691.3" y2="1473.2" stroke="#9ec020"/>
<line x1="691.3" y1="1473.2" x2="692.4" y2="1477.5" stroke="#8ac020"/>
<line x1="692.4" y1="1477.5" x2="695.0" y2="1481.5" stroke="#6dc21f"/>
<line x1="695.0" y1="1481.5" x2="700.0" y2="1482.0" stroke="#4cc41e"/>
<line x1="700.0" y1="1482.0" x2="705.0" y2="1482.0" stroke="#49c322"/>
<line x1="705.0" y1="1482.0" x2="708.5" y2="1481.5" stroke="#6dc21f"/>
<line x1="708.5" y1="1481.5" x2="710.5" y2="1481.5" stroke="#a2c01f"/>
<line x1="710.5" y1="1481.5" x2="713.0" y2="1482.0" stroke="#87c120"/>
<line x1="713.0" y1="1482.0" x2="718.0" y2="1482.0" stroke="#49c322"/>
<line x1="718.0" y1="1482.0" x2="721.0" y2="1482.0" stroke="#3abf38"/>
<line x1="721.0" y1="1482.0" x2="724.0" y2="1482.0" stroke="#2ebb49"/>
<line x1="724.0" y1="1482.0" x2="727.0" y2="1482.0" stroke="#28b95b"/>
<line x1="727.0" y1="1482.0" x2="730.0" y2="1482.0" stroke="#23b76b"/>
<line x1="730.0" y1="1482.0" x2="733.5" y2="1482.0" stroke="#20b578"/>
<line x1="733.5" y1="1482.0" x2="737.0" y2="1482.0" stroke="#1eb180"/>
<line x1="737.0" y1="1482.0" x2="740.0" y2="1482.0" stroke="#1ead83"/>
<line x1="740.0" y1="1482.0" x2="743.0" y2="1482.0" stroke="#1ead83"/>
</g>
<path d="M115.5,1499.4 V1540.4 H131.8 V1499.9" fill="none" stroke="#000" stroke-width="3.4" stroke-linejoin="miter"/>
<path d="M123.7,1540.4 V1550.8" fill="none" stroke="#000" stroke-width="3.4" stroke-linejoin="miter"/>
<path d="M181.4,1505.3 V1540.4 H230.2 V1511.8" fill="none" stroke="#000" stroke-width="3.4" stroke-linejoin="miter"/>
<path d="M206.2,1540.4 V1550.8" fill="none" stroke="#000" stroke-width="3.4" stroke-linejoin="miter"/>
<path d="M241.5,1510.5 V1540.4 H278.0 V1523.5" fill="none" stroke="#000" stroke-width="3.4" stroke-linejoin="miter"/>
<path d="M259.4,1540.4 V1550.8" fill="none" stroke="#000" stroke-width="3.4" stroke-linejoin="miter"/>
<path d="M288.6,1509.2 V1540.4 H305.5 V1496.7" fill="none" stroke="#000" stroke-width="3.4" stroke-linejoin="miter"/>
<path d="M297.2,1540.4 V1550.8" fill="none" stroke="#000" stroke-width="3.4" stroke-linejoin="miter"/>
<path d="M121.9,1550.8 H297.2 L342.0,1540.2" fill="none" stroke="#000" stroke-width="3.4" stroke-linejoin="miter"/>
<text transform="translate(115.20,1401.20) scale(1.008,1)" font-size="30" text-anchor="start" fill="#000" >Lipids</text>
<text transform="translate(344.20,1539.60) scale(1.008,1)" font-size="30" text-anchor="start" fill="#000" >Glucose</text>
<text transform="translate(478.70,1400.90) scale(1.008,1)" font-size="30" text-anchor="start" fill="#000" >Lipids</text>
<text transform="translate(501.00,1547.00) scale(1.008,1)" font-size="30" text-anchor="start" fill="#000" >NAG</text>
<text transform="translate(614.00,1540.30) scale(1.008,1)" font-size="30" text-anchor="start" fill="#000" >Alanine</text>
<text transform="translate(666.00,1315.00) scale(1.008,1)" font-size="30" text-anchor="start" fill="#000" >Lipids</text>
<line x1="135.80" y1="1409.50" x2="127.36" y2="1429.81" stroke="#000" stroke-width="4.5" stroke-linecap="butt"/>
<polygon points="121.80,1443.20 121.56,1426.32 133.93,1431.46" fill="#000" stroke="none" stroke-width="0" />
<line x1="521.20" y1="1407.80" x2="510.20" y2="1426.67" stroke="#000" stroke-width="4.5" stroke-linecap="butt"/>
<polygon points="502.90,1439.20 504.92,1422.43 516.49,1429.18" fill="#000" stroke="none" stroke-width="0" />
<line x1="659.40" y1="1303.60" x2="639.40" y2="1301.27" stroke="#000" stroke-width="4.5" stroke-linecap="butt"/>
<polygon points="625.00,1299.60 641.17,1294.74 639.62,1308.05" fill="#000" stroke="none" stroke-width="0" />
<line x1="684.20" y1="1326.20" x2="684.20" y2="1342.50" stroke="#000" stroke-width="4.5" stroke-linecap="butt"/>
<polygon points="684.20,1357.00 677.50,1341.50 690.90,1341.50" fill="#000" stroke="none" stroke-width="0" />
<line x1="506.80" y1="1519.80" x2="499.63" y2="1508.61" stroke="#000" stroke-width="4.5" stroke-linecap="butt"/>
<polygon points="491.80,1496.40 505.81,1505.83 494.52,1513.06" fill="#000" stroke="none" stroke-width="0" />
<line x1="614.60" y1="1519.80" x2="598.71" y2="1511.39" stroke="#000" stroke-width="4.5" stroke-linecap="butt"/>
<polygon points="585.90,1504.60 602.73,1505.93 596.46,1517.78" fill="#000" stroke="none" stroke-width="0" />
</svg>
</body></html>
